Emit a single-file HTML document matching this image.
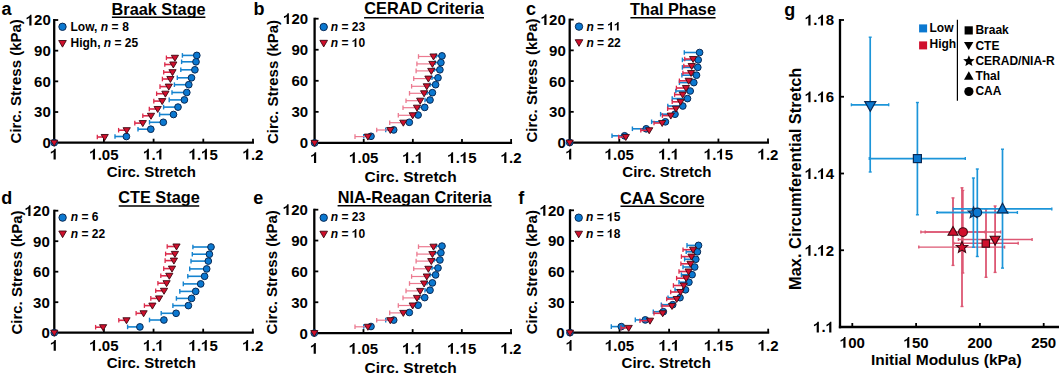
<!DOCTYPE html>
<html><head><meta charset="utf-8"><style>
html,body{margin:0;padding:0;background:#fff;}
svg{display:block;font-family:"Liberation Sans", sans-serif;}
</style></head><body>
<svg width="1059" height="375" viewBox="0 0 1059 375">
<rect width="1059" height="375" fill="#fff"/>
<text x="1.60" y="14.90" font-size="18" text-anchor="start" font-weight="bold">a</text>
<text x="158.60" y="14.60" font-size="16.3" text-anchor="middle" font-weight="bold">Braak Stage</text>
<line x1="111.90" y1="17.30" x2="205.40" y2="17.30" stroke="#000" stroke-width="1.6"/>
<text transform="translate(20.90,81.30) rotate(-90)" x="0" y="0" font-size="15" text-anchor="middle" font-weight="bold">Circ. Stress (kPa)</text>
<text x="151.30" y="177.00" font-size="15" text-anchor="middle" font-weight="bold">Circ. Stretch</text>
<line x1="54.20" y1="19.00" x2="54.20" y2="143.85" stroke="#000" stroke-width="2.3"/>
<line x1="53.05" y1="142.70" x2="254.00" y2="142.70" stroke="#000" stroke-width="2.3"/>
<path d="M53.56 159.60L55.76 159.60L55.76 148.86L54.41 148.86L54.04 149.71L53.32 150.52L52.23 151.25L50.82 151.87L50.82 153.52L51.86 153.13L52.81 152.57L53.56 152.01Z" fill="#000"/>
<line x1="103.90" y1="142.70" x2="103.90" y2="138.70" stroke="#000" stroke-width="1.8"/>
<path d="M92.83 159.60L95.03 159.60L95.03 148.86L93.68 148.86L93.32 149.71L92.60 150.52L91.50 151.25L90.09 151.87L90.09 153.52L91.13 153.13L92.09 152.57L92.83 152.01Z" fill="#000"/>
<text x="97.65" y="159.60" font-size="15" font-weight="bold">.</text>
<text x="101.81" y="159.60" font-size="15" font-weight="bold">0</text>
<text x="110.15" y="159.60" font-size="15" font-weight="bold">5</text>
<line x1="153.60" y1="142.70" x2="153.60" y2="138.70" stroke="#000" stroke-width="1.8"/>
<path d="M146.70 159.60L148.90 159.60L148.90 148.86L147.55 148.86L147.19 149.71L146.47 150.52L145.37 151.25L143.96 151.87L143.96 153.52L145.01 153.13L145.96 152.57L146.70 152.01Z" fill="#000"/>
<text x="151.52" y="159.60" font-size="15" font-weight="bold">.</text>
<path d="M159.21 159.60L161.41 159.60L161.41 148.86L160.06 148.86L159.70 149.71L158.98 150.52L157.88 151.25L156.47 151.87L156.47 153.52L157.51 153.13L158.47 152.57L159.21 152.01Z" fill="#000"/>
<line x1="203.30" y1="142.70" x2="203.30" y2="138.70" stroke="#000" stroke-width="1.8"/>
<path d="M192.23 159.60L194.43 159.60L194.43 148.86L193.08 148.86L192.72 149.71L192.00 150.52L190.90 151.25L189.49 151.87L189.49 153.52L190.53 153.13L191.49 152.57L192.23 152.01Z" fill="#000"/>
<text x="197.05" y="159.60" font-size="15" font-weight="bold">.</text>
<path d="M204.74 159.60L206.94 159.60L206.94 148.86L205.59 148.86L205.23 149.71L204.51 150.52L203.41 151.25L202.00 151.87L202.00 153.52L203.04 153.13L204.00 152.57L204.74 152.01Z" fill="#000"/>
<text x="209.55" y="159.60" font-size="15" font-weight="bold">5</text>
<line x1="253.00" y1="142.70" x2="253.00" y2="138.70" stroke="#000" stroke-width="1.8"/>
<path d="M246.10 159.60L248.30 159.60L248.30 148.86L246.95 148.86L246.59 149.71L245.87 150.52L244.77 151.25L243.36 151.87L243.36 153.52L244.41 153.13L245.36 152.57L246.10 152.01Z" fill="#000"/>
<text x="250.92" y="159.60" font-size="15" font-weight="bold">.</text>
<text x="255.08" y="159.60" font-size="15" font-weight="bold">2</text>
<text x="42.46" y="148.10" font-size="15" font-weight="bold">0</text>
<line x1="54.20" y1="112.02" x2="58.20" y2="112.02" stroke="#000" stroke-width="1.8"/>
<text x="34.12" y="117.42" font-size="15" font-weight="bold">3</text>
<text x="42.46" y="117.42" font-size="15" font-weight="bold">0</text>
<line x1="54.20" y1="81.35" x2="58.20" y2="81.35" stroke="#000" stroke-width="1.8"/>
<text x="34.12" y="86.75" font-size="15" font-weight="bold">6</text>
<text x="42.46" y="86.75" font-size="15" font-weight="bold">0</text>
<line x1="54.20" y1="50.67" x2="58.20" y2="50.67" stroke="#000" stroke-width="1.8"/>
<text x="34.12" y="56.07" font-size="15" font-weight="bold">9</text>
<text x="42.46" y="56.07" font-size="15" font-weight="bold">0</text>
<line x1="54.20" y1="20.00" x2="58.20" y2="20.00" stroke="#000" stroke-width="1.8"/>
<path d="M29.30 25.40L31.50 25.40L31.50 14.66L30.15 14.66L29.79 15.51L29.07 16.32L27.97 17.05L26.56 17.67L26.56 19.32L27.60 18.93L28.56 18.37L29.30 17.81Z" fill="#000"/>
<text x="34.12" y="25.40" font-size="15" font-weight="bold">2</text>
<text x="42.46" y="25.40" font-size="15" font-weight="bold">0</text>
<circle cx="54.20" cy="142.70" r="3.35" fill="#0b78d0" stroke="#0a2a55" stroke-width="1"/>
<line x1="115.00" y1="136.50" x2="126.40" y2="136.50" stroke="#1583cf" stroke-width="1.6"/>
<line x1="115.00" y1="134.20" x2="115.00" y2="138.80" stroke="#1583cf" stroke-width="1.4"/>
<line x1="138.00" y1="129.20" x2="150.80" y2="129.20" stroke="#1583cf" stroke-width="1.6"/>
<line x1="138.00" y1="126.90" x2="138.00" y2="131.50" stroke="#1583cf" stroke-width="1.4"/>
<line x1="149.50" y1="122.30" x2="163.30" y2="122.30" stroke="#1583cf" stroke-width="1.6"/>
<line x1="149.50" y1="120.00" x2="149.50" y2="124.60" stroke="#1583cf" stroke-width="1.4"/>
<line x1="159.60" y1="114.50" x2="173.50" y2="114.50" stroke="#1583cf" stroke-width="1.6"/>
<line x1="159.60" y1="112.20" x2="159.60" y2="116.80" stroke="#1583cf" stroke-width="1.4"/>
<line x1="163.60" y1="107.10" x2="178.00" y2="107.10" stroke="#1583cf" stroke-width="1.6"/>
<line x1="163.60" y1="104.80" x2="163.60" y2="109.40" stroke="#1583cf" stroke-width="1.4"/>
<line x1="169.20" y1="99.90" x2="184.40" y2="99.90" stroke="#1583cf" stroke-width="1.6"/>
<line x1="169.20" y1="97.60" x2="169.20" y2="102.20" stroke="#1583cf" stroke-width="1.4"/>
<line x1="172.00" y1="92.50" x2="186.80" y2="92.50" stroke="#1583cf" stroke-width="1.6"/>
<line x1="172.00" y1="90.20" x2="172.00" y2="94.80" stroke="#1583cf" stroke-width="1.4"/>
<line x1="174.40" y1="84.70" x2="188.80" y2="84.70" stroke="#1583cf" stroke-width="1.6"/>
<line x1="174.40" y1="82.40" x2="174.40" y2="87.00" stroke="#1583cf" stroke-width="1.4"/>
<line x1="177.30" y1="77.80" x2="191.50" y2="77.80" stroke="#1583cf" stroke-width="1.6"/>
<line x1="177.30" y1="75.50" x2="177.30" y2="80.10" stroke="#1583cf" stroke-width="1.4"/>
<line x1="180.80" y1="69.80" x2="194.90" y2="69.80" stroke="#1583cf" stroke-width="1.6"/>
<line x1="180.80" y1="67.50" x2="180.80" y2="72.10" stroke="#1583cf" stroke-width="1.4"/>
<line x1="181.60" y1="61.80" x2="196.00" y2="61.80" stroke="#1583cf" stroke-width="1.6"/>
<line x1="181.60" y1="59.50" x2="181.60" y2="64.10" stroke="#1583cf" stroke-width="1.4"/>
<line x1="182.40" y1="55.40" x2="196.80" y2="55.40" stroke="#1583cf" stroke-width="1.6"/>
<line x1="182.40" y1="53.10" x2="182.40" y2="57.70" stroke="#1583cf" stroke-width="1.4"/>
<circle cx="126.40" cy="136.50" r="3.35" fill="#0b78d0" stroke="#0a2a55" stroke-width="1"/>
<circle cx="150.80" cy="129.20" r="3.35" fill="#0b78d0" stroke="#0a2a55" stroke-width="1"/>
<circle cx="163.30" cy="122.30" r="3.35" fill="#0b78d0" stroke="#0a2a55" stroke-width="1"/>
<circle cx="173.50" cy="114.50" r="3.35" fill="#0b78d0" stroke="#0a2a55" stroke-width="1"/>
<circle cx="178.00" cy="107.10" r="3.35" fill="#0b78d0" stroke="#0a2a55" stroke-width="1"/>
<circle cx="184.40" cy="99.90" r="3.35" fill="#0b78d0" stroke="#0a2a55" stroke-width="1"/>
<circle cx="186.80" cy="92.50" r="3.35" fill="#0b78d0" stroke="#0a2a55" stroke-width="1"/>
<circle cx="188.80" cy="84.70" r="3.35" fill="#0b78d0" stroke="#0a2a55" stroke-width="1"/>
<circle cx="191.50" cy="77.80" r="3.35" fill="#0b78d0" stroke="#0a2a55" stroke-width="1"/>
<circle cx="194.90" cy="69.80" r="3.35" fill="#0b78d0" stroke="#0a2a55" stroke-width="1"/>
<circle cx="196.00" cy="61.80" r="3.35" fill="#0b78d0" stroke="#0a2a55" stroke-width="1"/>
<circle cx="196.80" cy="55.40" r="3.35" fill="#0b78d0" stroke="#0a2a55" stroke-width="1"/>
<line x1="97.30" y1="137.00" x2="104.70" y2="137.00" stroke="#dc2a4a" stroke-width="1.6"/>
<line x1="97.30" y1="134.70" x2="97.30" y2="139.30" stroke="#dc2a4a" stroke-width="1.3"/>
<line x1="118.60" y1="130.20" x2="126.70" y2="130.20" stroke="#dc2a4a" stroke-width="1.6"/>
<line x1="118.60" y1="127.90" x2="118.60" y2="132.50" stroke="#dc2a4a" stroke-width="1.3"/>
<line x1="134.80" y1="123.10" x2="142.80" y2="123.10" stroke="#dc2a4a" stroke-width="1.6"/>
<line x1="134.80" y1="120.80" x2="134.80" y2="125.40" stroke="#dc2a4a" stroke-width="1.3"/>
<line x1="142.80" y1="115.80" x2="151.00" y2="115.80" stroke="#dc2a4a" stroke-width="1.6"/>
<line x1="142.80" y1="113.50" x2="142.80" y2="118.10" stroke="#dc2a4a" stroke-width="1.3"/>
<line x1="149.30" y1="109.00" x2="157.70" y2="109.00" stroke="#dc2a4a" stroke-width="1.6"/>
<line x1="149.30" y1="106.70" x2="149.30" y2="111.30" stroke="#dc2a4a" stroke-width="1.3"/>
<line x1="153.80" y1="101.10" x2="162.20" y2="101.10" stroke="#dc2a4a" stroke-width="1.6"/>
<line x1="153.80" y1="98.80" x2="153.80" y2="103.40" stroke="#dc2a4a" stroke-width="1.3"/>
<line x1="156.60" y1="93.70" x2="165.40" y2="93.70" stroke="#dc2a4a" stroke-width="1.6"/>
<line x1="156.60" y1="91.40" x2="156.60" y2="96.00" stroke="#dc2a4a" stroke-width="1.3"/>
<line x1="160.00" y1="86.60" x2="168.80" y2="86.60" stroke="#dc2a4a" stroke-width="1.6"/>
<line x1="160.00" y1="84.30" x2="160.00" y2="88.90" stroke="#dc2a4a" stroke-width="1.3"/>
<line x1="162.40" y1="79.00" x2="170.40" y2="79.00" stroke="#dc2a4a" stroke-width="1.6"/>
<line x1="162.40" y1="76.70" x2="162.40" y2="81.30" stroke="#dc2a4a" stroke-width="1.3"/>
<line x1="163.70" y1="72.20" x2="172.50" y2="72.20" stroke="#dc2a4a" stroke-width="1.6"/>
<line x1="163.70" y1="69.90" x2="163.70" y2="74.50" stroke="#dc2a4a" stroke-width="1.3"/>
<line x1="164.80" y1="64.50" x2="173.30" y2="64.50" stroke="#dc2a4a" stroke-width="1.6"/>
<line x1="164.80" y1="62.20" x2="164.80" y2="66.80" stroke="#dc2a4a" stroke-width="1.3"/>
<line x1="166.40" y1="57.80" x2="174.90" y2="57.80" stroke="#dc2a4a" stroke-width="1.6"/>
<line x1="166.40" y1="55.50" x2="166.40" y2="60.10" stroke="#dc2a4a" stroke-width="1.3"/>
<path d="M50.60 140.18L57.80 140.18L54.20 146.18Z" fill="#d00f2c" stroke="#3c0812" stroke-width="0.9" stroke-linejoin="miter"/>
<path d="M101.10 134.48L108.30 134.48L104.70 140.48Z" fill="#d00f2c" stroke="#3c0812" stroke-width="0.9" stroke-linejoin="miter"/>
<path d="M123.10 127.68L130.30 127.68L126.70 133.68Z" fill="#d00f2c" stroke="#3c0812" stroke-width="0.9" stroke-linejoin="miter"/>
<path d="M139.20 120.58L146.40 120.58L142.80 126.58Z" fill="#d00f2c" stroke="#3c0812" stroke-width="0.9" stroke-linejoin="miter"/>
<path d="M147.40 113.28L154.60 113.28L151.00 119.28Z" fill="#d00f2c" stroke="#3c0812" stroke-width="0.9" stroke-linejoin="miter"/>
<path d="M154.10 106.48L161.30 106.48L157.70 112.48Z" fill="#d00f2c" stroke="#3c0812" stroke-width="0.9" stroke-linejoin="miter"/>
<path d="M158.60 98.58L165.80 98.58L162.20 104.58Z" fill="#d00f2c" stroke="#3c0812" stroke-width="0.9" stroke-linejoin="miter"/>
<path d="M161.80 91.18L169.00 91.18L165.40 97.18Z" fill="#d00f2c" stroke="#3c0812" stroke-width="0.9" stroke-linejoin="miter"/>
<path d="M165.20 84.08L172.40 84.08L168.80 90.08Z" fill="#d00f2c" stroke="#3c0812" stroke-width="0.9" stroke-linejoin="miter"/>
<path d="M166.80 76.48L174.00 76.48L170.40 82.48Z" fill="#d00f2c" stroke="#3c0812" stroke-width="0.9" stroke-linejoin="miter"/>
<path d="M168.90 69.68L176.10 69.68L172.50 75.68Z" fill="#d00f2c" stroke="#3c0812" stroke-width="0.9" stroke-linejoin="miter"/>
<path d="M169.70 61.98L176.90 61.98L173.30 67.98Z" fill="#d00f2c" stroke="#3c0812" stroke-width="0.9" stroke-linejoin="miter"/>
<path d="M171.30 55.28L178.50 55.28L174.90 61.28Z" fill="#d00f2c" stroke="#3c0812" stroke-width="0.9" stroke-linejoin="miter"/>
<circle cx="62.50" cy="26.80" r="3.70" fill="#0b78d0" stroke="#0a2a55" stroke-width="1"/>
<path d="M58.70 40.53L66.30 40.53L62.50 47.13Z" fill="#d00f2c" stroke="#3c0812" stroke-width="0.9" stroke-linejoin="miter"/>
<text x="70.50" y="30.90" font-size="12" font-weight="bold">Low, <tspan font-style="italic">n</tspan> = </text>
<text x="122.17" y="30.90" font-size="12" font-weight="bold">8</text>
<text x="70.50" y="47.00" font-size="12" font-weight="bold">High, <tspan font-style="italic">n</tspan> = </text>
<text x="124.83" y="47.00" font-size="12" font-weight="bold">2</text>
<text x="131.51" y="47.00" font-size="12" font-weight="bold">5</text>
<text x="253.40" y="15.00" font-size="18" text-anchor="start" font-weight="bold">b</text>
<text x="424.00" y="14.20" font-size="16.3" text-anchor="middle" font-weight="bold">CERAD Criteria</text>
<line x1="364.10" y1="17.80" x2="484.00" y2="17.80" stroke="#000" stroke-width="1.6"/>
<text transform="translate(277.50,82.00) rotate(-90)" x="0" y="0" font-size="15" text-anchor="middle" font-weight="bold">Circ. Stress (kPa)</text>
<text x="410.60" y="182.40" font-size="15.5" text-anchor="middle" font-weight="bold">Circ. Stretch</text>
<line x1="314.60" y1="17.70" x2="314.60" y2="144.05" stroke="#000" stroke-width="2.3"/>
<line x1="313.45" y1="142.90" x2="512.10" y2="142.90" stroke="#000" stroke-width="2.3"/>
<path d="M313.96 163.00L316.16 163.00L316.16 152.26L314.81 152.26L314.44 153.11L313.72 153.92L312.63 154.65L311.22 155.27L311.22 156.92L312.26 156.53L313.21 155.97L313.96 155.41Z" fill="#000"/>
<line x1="363.73" y1="142.90" x2="363.73" y2="138.90" stroke="#000" stroke-width="1.8"/>
<path d="M352.66 163.00L354.86 163.00L354.86 152.26L353.51 152.26L353.14 153.11L352.42 153.92L351.33 154.65L349.92 155.27L349.92 156.92L350.96 156.53L351.91 155.97L352.66 155.41Z" fill="#000"/>
<text x="357.47" y="163.00" font-size="15" font-weight="bold">.</text>
<text x="361.64" y="163.00" font-size="15" font-weight="bold">0</text>
<text x="369.98" y="163.00" font-size="15" font-weight="bold">5</text>
<line x1="412.85" y1="142.90" x2="412.85" y2="138.90" stroke="#000" stroke-width="1.8"/>
<path d="M405.95 163.00L408.15 163.00L408.15 152.26L406.80 152.26L406.44 153.11L405.72 153.92L404.62 154.65L403.21 155.27L403.21 156.92L404.26 156.53L405.21 155.97L405.95 155.41Z" fill="#000"/>
<text x="410.77" y="163.00" font-size="15" font-weight="bold">.</text>
<path d="M418.46 163.00L420.66 163.00L420.66 152.26L419.31 152.26L418.95 153.11L418.23 153.92L417.13 154.65L415.72 155.27L415.72 156.92L416.76 156.53L417.72 155.97L418.46 155.41Z" fill="#000"/>
<line x1="461.98" y1="142.90" x2="461.98" y2="138.90" stroke="#000" stroke-width="1.8"/>
<path d="M450.91 163.00L453.11 163.00L453.11 152.26L451.76 152.26L451.39 153.11L450.67 153.92L449.58 154.65L448.17 155.27L448.17 156.92L449.21 156.53L450.16 155.97L450.91 155.41Z" fill="#000"/>
<text x="455.72" y="163.00" font-size="15" font-weight="bold">.</text>
<path d="M463.42 163.00L465.62 163.00L465.62 152.26L464.27 152.26L463.90 153.11L463.18 153.92L462.08 154.65L460.68 155.27L460.68 156.92L461.72 156.53L462.67 155.97L463.42 155.41Z" fill="#000"/>
<text x="468.23" y="163.00" font-size="15" font-weight="bold">5</text>
<line x1="511.10" y1="142.90" x2="511.10" y2="138.90" stroke="#000" stroke-width="1.8"/>
<path d="M504.20 163.00L506.40 163.00L506.40 152.26L505.05 152.26L504.69 153.11L503.97 153.92L502.87 154.65L501.46 155.27L501.46 156.92L502.51 156.53L503.46 155.97L504.20 155.41Z" fill="#000"/>
<text x="509.02" y="163.00" font-size="15" font-weight="bold">.</text>
<text x="513.18" y="163.00" font-size="15" font-weight="bold">2</text>
<text x="299.86" y="148.30" font-size="15" font-weight="bold">0</text>
<line x1="314.60" y1="111.85" x2="318.60" y2="111.85" stroke="#000" stroke-width="1.8"/>
<text x="291.52" y="117.25" font-size="15" font-weight="bold">3</text>
<text x="299.86" y="117.25" font-size="15" font-weight="bold">0</text>
<line x1="314.60" y1="80.80" x2="318.60" y2="80.80" stroke="#000" stroke-width="1.8"/>
<text x="291.52" y="86.20" font-size="15" font-weight="bold">6</text>
<text x="299.86" y="86.20" font-size="15" font-weight="bold">0</text>
<line x1="314.60" y1="49.75" x2="318.60" y2="49.75" stroke="#000" stroke-width="1.8"/>
<text x="291.52" y="55.15" font-size="15" font-weight="bold">9</text>
<text x="299.86" y="55.15" font-size="15" font-weight="bold">0</text>
<line x1="314.60" y1="18.70" x2="318.60" y2="18.70" stroke="#000" stroke-width="1.8"/>
<path d="M286.70 24.10L288.90 24.10L288.90 13.36L287.55 13.36L287.19 14.21L286.47 15.02L285.37 15.75L283.96 16.37L283.96 18.02L285.00 17.63L285.96 17.07L286.70 16.51Z" fill="#000"/>
<text x="291.52" y="24.10" font-size="15" font-weight="bold">2</text>
<text x="299.86" y="24.10" font-size="15" font-weight="bold">0</text>
<circle cx="314.60" cy="142.90" r="3.35" fill="#0b78d0" stroke="#0a2a55" stroke-width="1"/>
<line x1="363.70" y1="136.30" x2="371.00" y2="136.30" stroke="#1583cf" stroke-width="1.6"/>
<line x1="363.70" y1="134.00" x2="363.70" y2="138.60" stroke="#1583cf" stroke-width="1.4"/>
<line x1="385.70" y1="129.90" x2="393.70" y2="129.90" stroke="#1583cf" stroke-width="1.6"/>
<line x1="385.70" y1="127.60" x2="385.70" y2="132.20" stroke="#1583cf" stroke-width="1.4"/>
<line x1="403.00" y1="122.30" x2="409.30" y2="122.30" stroke="#1583cf" stroke-width="1.6"/>
<line x1="403.00" y1="120.00" x2="403.00" y2="124.60" stroke="#1583cf" stroke-width="1.4"/>
<line x1="412.00" y1="115.00" x2="418.10" y2="115.00" stroke="#1583cf" stroke-width="1.6"/>
<line x1="412.00" y1="112.70" x2="412.00" y2="117.30" stroke="#1583cf" stroke-width="1.4"/>
<line x1="419.00" y1="107.40" x2="424.70" y2="107.40" stroke="#1583cf" stroke-width="1.6"/>
<line x1="419.00" y1="105.10" x2="419.00" y2="109.70" stroke="#1583cf" stroke-width="1.4"/>
<line x1="425.00" y1="100.00" x2="430.00" y2="100.00" stroke="#1583cf" stroke-width="1.6"/>
<line x1="425.00" y1="97.70" x2="425.00" y2="102.30" stroke="#1583cf" stroke-width="1.4"/>
<line x1="427.00" y1="92.70" x2="432.40" y2="92.70" stroke="#1583cf" stroke-width="1.6"/>
<line x1="427.00" y1="90.40" x2="427.00" y2="95.00" stroke="#1583cf" stroke-width="1.4"/>
<line x1="430.00" y1="84.70" x2="435.60" y2="84.70" stroke="#1583cf" stroke-width="1.6"/>
<line x1="430.00" y1="82.40" x2="430.00" y2="87.00" stroke="#1583cf" stroke-width="1.4"/>
<line x1="432.00" y1="77.80" x2="438.00" y2="77.80" stroke="#1583cf" stroke-width="1.6"/>
<line x1="432.00" y1="75.50" x2="432.00" y2="80.10" stroke="#1583cf" stroke-width="1.4"/>
<line x1="434.00" y1="69.80" x2="439.90" y2="69.80" stroke="#1583cf" stroke-width="1.6"/>
<line x1="434.00" y1="67.50" x2="434.00" y2="72.10" stroke="#1583cf" stroke-width="1.4"/>
<line x1="435.00" y1="62.60" x2="440.90" y2="62.60" stroke="#1583cf" stroke-width="1.6"/>
<line x1="435.00" y1="60.30" x2="435.00" y2="64.90" stroke="#1583cf" stroke-width="1.4"/>
<line x1="436.00" y1="55.90" x2="442.00" y2="55.90" stroke="#1583cf" stroke-width="1.6"/>
<line x1="436.00" y1="53.60" x2="436.00" y2="58.20" stroke="#1583cf" stroke-width="1.4"/>
<circle cx="371.00" cy="136.30" r="3.35" fill="#0b78d0" stroke="#0a2a55" stroke-width="1"/>
<circle cx="393.70" cy="129.90" r="3.35" fill="#0b78d0" stroke="#0a2a55" stroke-width="1"/>
<circle cx="409.30" cy="122.30" r="3.35" fill="#0b78d0" stroke="#0a2a55" stroke-width="1"/>
<circle cx="418.10" cy="115.00" r="3.35" fill="#0b78d0" stroke="#0a2a55" stroke-width="1"/>
<circle cx="424.70" cy="107.40" r="3.35" fill="#0b78d0" stroke="#0a2a55" stroke-width="1"/>
<circle cx="430.00" cy="100.00" r="3.35" fill="#0b78d0" stroke="#0a2a55" stroke-width="1"/>
<circle cx="432.40" cy="92.70" r="3.35" fill="#0b78d0" stroke="#0a2a55" stroke-width="1"/>
<circle cx="435.60" cy="84.70" r="3.35" fill="#0b78d0" stroke="#0a2a55" stroke-width="1"/>
<circle cx="438.00" cy="77.80" r="3.35" fill="#0b78d0" stroke="#0a2a55" stroke-width="1"/>
<circle cx="439.90" cy="69.80" r="3.35" fill="#0b78d0" stroke="#0a2a55" stroke-width="1"/>
<circle cx="440.90" cy="62.60" r="3.35" fill="#0b78d0" stroke="#0a2a55" stroke-width="1"/>
<circle cx="442.00" cy="55.90" r="3.35" fill="#0b78d0" stroke="#0a2a55" stroke-width="1"/>
<line x1="355.00" y1="136.60" x2="367.90" y2="136.60" stroke="#ec7a90" stroke-width="1.2"/>
<line x1="355.00" y1="134.30" x2="355.00" y2="138.90" stroke="#ec7a90" stroke-width="1.3"/>
<line x1="376.70" y1="130.00" x2="390.30" y2="130.00" stroke="#ec7a90" stroke-width="1.2"/>
<line x1="376.70" y1="127.70" x2="376.70" y2="132.30" stroke="#ec7a90" stroke-width="1.3"/>
<line x1="389.70" y1="122.70" x2="403.30" y2="122.70" stroke="#ec7a90" stroke-width="1.2"/>
<line x1="389.70" y1="120.40" x2="389.70" y2="125.00" stroke="#ec7a90" stroke-width="1.3"/>
<line x1="398.30" y1="115.30" x2="412.70" y2="115.30" stroke="#ec7a90" stroke-width="1.2"/>
<line x1="398.30" y1="113.00" x2="398.30" y2="117.60" stroke="#ec7a90" stroke-width="1.3"/>
<line x1="403.00" y1="107.70" x2="417.00" y2="107.70" stroke="#ec7a90" stroke-width="1.2"/>
<line x1="403.00" y1="105.40" x2="403.00" y2="110.00" stroke="#ec7a90" stroke-width="1.3"/>
<line x1="406.00" y1="100.70" x2="420.20" y2="100.70" stroke="#ec7a90" stroke-width="1.2"/>
<line x1="406.00" y1="98.40" x2="406.00" y2="103.00" stroke="#ec7a90" stroke-width="1.3"/>
<line x1="409.50" y1="93.30" x2="424.10" y2="93.30" stroke="#ec7a90" stroke-width="1.2"/>
<line x1="409.50" y1="91.00" x2="409.50" y2="95.60" stroke="#ec7a90" stroke-width="1.3"/>
<line x1="411.60" y1="86.30" x2="426.80" y2="86.30" stroke="#ec7a90" stroke-width="1.2"/>
<line x1="411.60" y1="84.00" x2="411.60" y2="88.60" stroke="#ec7a90" stroke-width="1.3"/>
<line x1="413.70" y1="78.60" x2="428.40" y2="78.60" stroke="#ec7a90" stroke-width="1.2"/>
<line x1="413.70" y1="76.30" x2="413.70" y2="80.90" stroke="#ec7a90" stroke-width="1.3"/>
<line x1="416.10" y1="70.90" x2="431.30" y2="70.90" stroke="#ec7a90" stroke-width="1.2"/>
<line x1="416.10" y1="68.60" x2="416.10" y2="73.20" stroke="#ec7a90" stroke-width="1.3"/>
<line x1="416.90" y1="63.90" x2="432.40" y2="63.90" stroke="#ec7a90" stroke-width="1.2"/>
<line x1="416.90" y1="61.60" x2="416.90" y2="66.20" stroke="#ec7a90" stroke-width="1.3"/>
<line x1="418.50" y1="56.50" x2="433.50" y2="56.50" stroke="#ec7a90" stroke-width="1.2"/>
<line x1="418.50" y1="54.20" x2="418.50" y2="58.80" stroke="#ec7a90" stroke-width="1.3"/>
<path d="M311.00 140.38L318.20 140.38L314.60 146.38Z" fill="#d00f2c" stroke="#3c0812" stroke-width="0.9" stroke-linejoin="miter"/>
<path d="M364.30 134.08L371.50 134.08L367.90 140.08Z" fill="#d00f2c" stroke="#3c0812" stroke-width="0.9" stroke-linejoin="miter"/>
<path d="M386.70 127.48L393.90 127.48L390.30 133.48Z" fill="#d00f2c" stroke="#3c0812" stroke-width="0.9" stroke-linejoin="miter"/>
<path d="M399.70 120.18L406.90 120.18L403.30 126.18Z" fill="#d00f2c" stroke="#3c0812" stroke-width="0.9" stroke-linejoin="miter"/>
<path d="M409.10 112.78L416.30 112.78L412.70 118.78Z" fill="#d00f2c" stroke="#3c0812" stroke-width="0.9" stroke-linejoin="miter"/>
<path d="M413.40 105.18L420.60 105.18L417.00 111.18Z" fill="#d00f2c" stroke="#3c0812" stroke-width="0.9" stroke-linejoin="miter"/>
<path d="M416.60 98.18L423.80 98.18L420.20 104.18Z" fill="#d00f2c" stroke="#3c0812" stroke-width="0.9" stroke-linejoin="miter"/>
<path d="M420.50 90.78L427.70 90.78L424.10 96.78Z" fill="#d00f2c" stroke="#3c0812" stroke-width="0.9" stroke-linejoin="miter"/>
<path d="M423.20 83.78L430.40 83.78L426.80 89.78Z" fill="#d00f2c" stroke="#3c0812" stroke-width="0.9" stroke-linejoin="miter"/>
<path d="M424.80 76.08L432.00 76.08L428.40 82.08Z" fill="#d00f2c" stroke="#3c0812" stroke-width="0.9" stroke-linejoin="miter"/>
<path d="M427.70 68.38L434.90 68.38L431.30 74.38Z" fill="#d00f2c" stroke="#3c0812" stroke-width="0.9" stroke-linejoin="miter"/>
<path d="M428.80 61.38L436.00 61.38L432.40 67.38Z" fill="#d00f2c" stroke="#3c0812" stroke-width="0.9" stroke-linejoin="miter"/>
<path d="M429.90 53.98L437.10 53.98L433.50 59.98Z" fill="#d00f2c" stroke="#3c0812" stroke-width="0.9" stroke-linejoin="miter"/>
<circle cx="323.70" cy="27.00" r="3.70" fill="#0b78d0" stroke="#0a2a55" stroke-width="1"/>
<path d="M319.90 40.33L327.50 40.33L323.70 46.93Z" fill="#d00f2c" stroke="#3c0812" stroke-width="0.9" stroke-linejoin="miter"/>
<text x="330.80" y="30.60" font-size="12" font-weight="bold"><tspan font-style="italic">n</tspan> = </text>
<text x="351.81" y="30.60" font-size="12" font-weight="bold">2</text>
<text x="358.48" y="30.60" font-size="12" font-weight="bold">3</text>
<text x="330.80" y="46.90" font-size="12" font-weight="bold"><tspan font-style="italic">n</tspan> = </text>
<path d="M354.63 46.90L356.39 46.90L356.39 38.31L355.31 38.31L355.02 38.99L354.44 39.63L353.56 40.22L352.44 40.72L352.44 42.04L353.27 41.72L354.03 41.27L354.63 40.83Z" fill="#000"/>
<text x="358.48" y="46.90" font-size="12" font-weight="bold">0</text>
<text x="526.00" y="15.00" font-size="18" text-anchor="start" font-weight="bold">c</text>
<text x="673.00" y="14.50" font-size="16.3" text-anchor="middle" font-weight="bold">Thal Phase</text>
<line x1="630.40" y1="17.70" x2="715.60" y2="17.70" stroke="#000" stroke-width="1.6"/>
<text transform="translate(536.70,80.50) rotate(-90)" x="0" y="0" font-size="15" text-anchor="middle" font-weight="bold">Circ. Stress (kPa)</text>
<text x="666.90" y="176.80" font-size="15" text-anchor="middle" font-weight="bold">Circ. Stretch</text>
<line x1="569.70" y1="18.60" x2="569.70" y2="143.75" stroke="#000" stroke-width="2.3"/>
<line x1="568.55" y1="142.60" x2="769.00" y2="142.60" stroke="#000" stroke-width="2.3"/>
<path d="M569.06 159.50L571.26 159.50L571.26 148.76L569.91 148.76L569.54 149.61L568.82 150.42L567.73 151.15L566.32 151.77L566.32 153.42L567.36 153.03L568.31 152.47L569.06 151.91Z" fill="#000"/>
<line x1="619.28" y1="142.60" x2="619.28" y2="138.60" stroke="#000" stroke-width="1.8"/>
<path d="M608.21 159.50L610.41 159.50L610.41 148.76L609.06 148.76L608.69 149.61L607.97 150.42L606.88 151.15L605.47 151.77L605.47 153.42L606.51 153.03L607.46 152.47L608.21 151.91Z" fill="#000"/>
<text x="613.02" y="159.50" font-size="15" font-weight="bold">.</text>
<text x="617.19" y="159.50" font-size="15" font-weight="bold">0</text>
<text x="625.53" y="159.50" font-size="15" font-weight="bold">5</text>
<line x1="668.85" y1="142.60" x2="668.85" y2="138.60" stroke="#000" stroke-width="1.8"/>
<path d="M661.95 159.50L664.15 159.50L664.15 148.76L662.80 148.76L662.44 149.61L661.72 150.42L660.62 151.15L659.21 151.77L659.21 153.42L660.26 153.03L661.21 152.47L661.95 151.91Z" fill="#000"/>
<text x="666.77" y="159.50" font-size="15" font-weight="bold">.</text>
<path d="M674.46 159.50L676.66 159.50L676.66 148.76L675.31 148.76L674.95 149.61L674.23 150.42L673.13 151.15L671.72 151.77L671.72 153.42L672.76 153.03L673.72 152.47L674.46 151.91Z" fill="#000"/>
<line x1="718.42" y1="142.60" x2="718.42" y2="138.60" stroke="#000" stroke-width="1.8"/>
<path d="M707.36 159.50L709.56 159.50L709.56 148.76L708.21 148.76L707.84 149.61L707.12 150.42L706.03 151.15L704.62 151.77L704.62 153.42L705.66 153.03L706.61 152.47L707.36 151.91Z" fill="#000"/>
<text x="712.17" y="159.50" font-size="15" font-weight="bold">.</text>
<path d="M719.87 159.50L722.07 159.50L722.07 148.76L720.72 148.76L720.35 149.61L719.63 150.42L718.53 151.15L717.13 151.77L717.13 153.42L718.17 153.03L719.12 152.47L719.87 151.91Z" fill="#000"/>
<text x="724.68" y="159.50" font-size="15" font-weight="bold">5</text>
<line x1="768.00" y1="142.60" x2="768.00" y2="138.60" stroke="#000" stroke-width="1.8"/>
<path d="M761.10 159.50L763.30 159.50L763.30 148.76L761.95 148.76L761.59 149.61L760.87 150.42L759.77 151.15L758.36 151.77L758.36 153.42L759.41 153.03L760.36 152.47L761.10 151.91Z" fill="#000"/>
<text x="765.92" y="159.50" font-size="15" font-weight="bold">.</text>
<text x="770.08" y="159.50" font-size="15" font-weight="bold">2</text>
<text x="557.46" y="148.00" font-size="15" font-weight="bold">0</text>
<line x1="569.70" y1="111.85" x2="573.70" y2="111.85" stroke="#000" stroke-width="1.8"/>
<text x="549.12" y="117.25" font-size="15" font-weight="bold">3</text>
<text x="557.46" y="117.25" font-size="15" font-weight="bold">0</text>
<line x1="569.70" y1="81.10" x2="573.70" y2="81.10" stroke="#000" stroke-width="1.8"/>
<text x="549.12" y="86.50" font-size="15" font-weight="bold">6</text>
<text x="557.46" y="86.50" font-size="15" font-weight="bold">0</text>
<line x1="569.70" y1="50.35" x2="573.70" y2="50.35" stroke="#000" stroke-width="1.8"/>
<text x="549.12" y="55.75" font-size="15" font-weight="bold">9</text>
<text x="557.46" y="55.75" font-size="15" font-weight="bold">0</text>
<line x1="569.70" y1="19.60" x2="573.70" y2="19.60" stroke="#000" stroke-width="1.8"/>
<path d="M544.30 25.00L546.50 25.00L546.50 14.26L545.15 14.26L544.79 15.11L544.07 15.92L542.97 16.65L541.56 17.27L541.56 18.92L542.60 18.53L543.56 17.97L544.30 17.41Z" fill="#000"/>
<text x="549.12" y="25.00" font-size="15" font-weight="bold">2</text>
<text x="557.46" y="25.00" font-size="15" font-weight="bold">0</text>
<circle cx="569.70" cy="142.60" r="3.35" fill="#0b78d0" stroke="#0a2a55" stroke-width="1"/>
<line x1="612.00" y1="135.80" x2="624.60" y2="135.80" stroke="#1583cf" stroke-width="1.6"/>
<line x1="612.00" y1="133.50" x2="612.00" y2="138.10" stroke="#1583cf" stroke-width="1.4"/>
<line x1="632.40" y1="128.80" x2="646.20" y2="128.80" stroke="#1583cf" stroke-width="1.6"/>
<line x1="632.40" y1="126.50" x2="632.40" y2="131.10" stroke="#1583cf" stroke-width="1.4"/>
<line x1="651.60" y1="121.80" x2="665.40" y2="121.80" stroke="#1583cf" stroke-width="1.6"/>
<line x1="651.60" y1="119.50" x2="651.60" y2="124.10" stroke="#1583cf" stroke-width="1.4"/>
<line x1="660.60" y1="114.20" x2="675.00" y2="114.20" stroke="#1583cf" stroke-width="1.6"/>
<line x1="660.60" y1="111.90" x2="660.60" y2="116.50" stroke="#1583cf" stroke-width="1.4"/>
<line x1="667.80" y1="106.00" x2="682.80" y2="106.00" stroke="#1583cf" stroke-width="1.6"/>
<line x1="667.80" y1="103.70" x2="667.80" y2="108.30" stroke="#1583cf" stroke-width="1.4"/>
<line x1="672.20" y1="98.60" x2="687.50" y2="98.60" stroke="#1583cf" stroke-width="1.6"/>
<line x1="672.20" y1="96.30" x2="672.20" y2="100.90" stroke="#1583cf" stroke-width="1.4"/>
<line x1="675.80" y1="91.00" x2="690.20" y2="91.00" stroke="#1583cf" stroke-width="1.6"/>
<line x1="675.80" y1="88.70" x2="675.80" y2="93.30" stroke="#1583cf" stroke-width="1.4"/>
<line x1="679.40" y1="82.60" x2="693.80" y2="82.60" stroke="#1583cf" stroke-width="1.6"/>
<line x1="679.40" y1="80.30" x2="679.40" y2="84.90" stroke="#1583cf" stroke-width="1.4"/>
<line x1="681.90" y1="75.20" x2="696.50" y2="75.20" stroke="#1583cf" stroke-width="1.6"/>
<line x1="681.90" y1="72.90" x2="681.90" y2="77.50" stroke="#1583cf" stroke-width="1.4"/>
<line x1="682.40" y1="67.40" x2="697.80" y2="67.40" stroke="#1583cf" stroke-width="1.6"/>
<line x1="682.40" y1="65.10" x2="682.40" y2="69.70" stroke="#1583cf" stroke-width="1.4"/>
<line x1="682.40" y1="59.90" x2="698.20" y2="59.90" stroke="#1583cf" stroke-width="1.6"/>
<line x1="682.40" y1="57.60" x2="682.40" y2="62.20" stroke="#1583cf" stroke-width="1.4"/>
<line x1="684.30" y1="52.50" x2="699.60" y2="52.50" stroke="#1583cf" stroke-width="1.6"/>
<line x1="684.30" y1="50.20" x2="684.30" y2="54.80" stroke="#1583cf" stroke-width="1.4"/>
<circle cx="624.60" cy="135.80" r="3.35" fill="#0b78d0" stroke="#0a2a55" stroke-width="1"/>
<circle cx="646.20" cy="128.80" r="3.35" fill="#0b78d0" stroke="#0a2a55" stroke-width="1"/>
<circle cx="665.40" cy="121.80" r="3.35" fill="#0b78d0" stroke="#0a2a55" stroke-width="1"/>
<circle cx="675.00" cy="114.20" r="3.35" fill="#0b78d0" stroke="#0a2a55" stroke-width="1"/>
<circle cx="682.80" cy="106.00" r="3.35" fill="#0b78d0" stroke="#0a2a55" stroke-width="1"/>
<circle cx="687.50" cy="98.60" r="3.35" fill="#0b78d0" stroke="#0a2a55" stroke-width="1"/>
<circle cx="690.20" cy="91.00" r="3.35" fill="#0b78d0" stroke="#0a2a55" stroke-width="1"/>
<circle cx="693.80" cy="82.60" r="3.35" fill="#0b78d0" stroke="#0a2a55" stroke-width="1"/>
<circle cx="696.50" cy="75.20" r="3.35" fill="#0b78d0" stroke="#0a2a55" stroke-width="1"/>
<circle cx="697.80" cy="67.40" r="3.35" fill="#0b78d0" stroke="#0a2a55" stroke-width="1"/>
<circle cx="698.20" cy="59.90" r="3.35" fill="#0b78d0" stroke="#0a2a55" stroke-width="1"/>
<circle cx="699.60" cy="52.50" r="3.35" fill="#0b78d0" stroke="#0a2a55" stroke-width="1"/>
<line x1="618.60" y1="137.00" x2="625.80" y2="137.00" stroke="#dc2a4a" stroke-width="1.6"/>
<line x1="618.60" y1="134.70" x2="618.60" y2="139.30" stroke="#dc2a4a" stroke-width="1.3"/>
<line x1="640.80" y1="130.30" x2="649.20" y2="130.30" stroke="#dc2a4a" stroke-width="1.6"/>
<line x1="640.80" y1="128.00" x2="640.80" y2="132.60" stroke="#dc2a4a" stroke-width="1.3"/>
<line x1="654.00" y1="123.00" x2="662.20" y2="123.00" stroke="#dc2a4a" stroke-width="1.6"/>
<line x1="654.00" y1="120.70" x2="654.00" y2="125.30" stroke="#dc2a4a" stroke-width="1.3"/>
<line x1="662.40" y1="115.60" x2="670.80" y2="115.60" stroke="#dc2a4a" stroke-width="1.6"/>
<line x1="662.40" y1="113.30" x2="662.40" y2="117.90" stroke="#dc2a4a" stroke-width="1.3"/>
<line x1="667.60" y1="108.70" x2="676.00" y2="108.70" stroke="#dc2a4a" stroke-width="1.6"/>
<line x1="667.60" y1="106.40" x2="667.60" y2="111.00" stroke="#dc2a4a" stroke-width="1.3"/>
<line x1="672.20" y1="101.80" x2="680.60" y2="101.80" stroke="#dc2a4a" stroke-width="1.6"/>
<line x1="672.20" y1="99.50" x2="672.20" y2="104.10" stroke="#dc2a4a" stroke-width="1.3"/>
<line x1="674.60" y1="94.60" x2="682.70" y2="94.60" stroke="#dc2a4a" stroke-width="1.6"/>
<line x1="674.60" y1="92.30" x2="674.60" y2="96.90" stroke="#dc2a4a" stroke-width="1.3"/>
<line x1="676.40" y1="88.00" x2="686.00" y2="88.00" stroke="#dc2a4a" stroke-width="1.6"/>
<line x1="676.40" y1="85.70" x2="676.40" y2="90.30" stroke="#dc2a4a" stroke-width="1.3"/>
<line x1="679.40" y1="80.80" x2="688.70" y2="80.80" stroke="#dc2a4a" stroke-width="1.6"/>
<line x1="679.40" y1="78.50" x2="679.40" y2="83.10" stroke="#dc2a4a" stroke-width="1.3"/>
<line x1="682.90" y1="73.00" x2="691.10" y2="73.00" stroke="#dc2a4a" stroke-width="1.6"/>
<line x1="682.90" y1="70.70" x2="682.90" y2="75.30" stroke="#dc2a4a" stroke-width="1.3"/>
<line x1="683.80" y1="66.00" x2="691.70" y2="66.00" stroke="#dc2a4a" stroke-width="1.6"/>
<line x1="683.80" y1="63.70" x2="683.80" y2="68.30" stroke="#dc2a4a" stroke-width="1.3"/>
<line x1="684.70" y1="59.00" x2="693.10" y2="59.00" stroke="#dc2a4a" stroke-width="1.6"/>
<line x1="684.70" y1="56.70" x2="684.70" y2="61.30" stroke="#dc2a4a" stroke-width="1.3"/>
<path d="M566.10 140.08L573.30 140.08L569.70 146.08Z" fill="#d00f2c" stroke="#3c0812" stroke-width="0.9" stroke-linejoin="miter"/>
<path d="M622.20 134.48L629.40 134.48L625.80 140.48Z" fill="#d00f2c" stroke="#3c0812" stroke-width="0.9" stroke-linejoin="miter"/>
<path d="M645.60 127.78L652.80 127.78L649.20 133.78Z" fill="#d00f2c" stroke="#3c0812" stroke-width="0.9" stroke-linejoin="miter"/>
<path d="M658.60 120.48L665.80 120.48L662.20 126.48Z" fill="#d00f2c" stroke="#3c0812" stroke-width="0.9" stroke-linejoin="miter"/>
<path d="M667.20 113.08L674.40 113.08L670.80 119.08Z" fill="#d00f2c" stroke="#3c0812" stroke-width="0.9" stroke-linejoin="miter"/>
<path d="M672.40 106.18L679.60 106.18L676.00 112.18Z" fill="#d00f2c" stroke="#3c0812" stroke-width="0.9" stroke-linejoin="miter"/>
<path d="M677.00 99.28L684.20 99.28L680.60 105.28Z" fill="#d00f2c" stroke="#3c0812" stroke-width="0.9" stroke-linejoin="miter"/>
<path d="M679.10 92.08L686.30 92.08L682.70 98.08Z" fill="#d00f2c" stroke="#3c0812" stroke-width="0.9" stroke-linejoin="miter"/>
<path d="M682.40 85.48L689.60 85.48L686.00 91.48Z" fill="#d00f2c" stroke="#3c0812" stroke-width="0.9" stroke-linejoin="miter"/>
<path d="M685.10 78.28L692.30 78.28L688.70 84.28Z" fill="#d00f2c" stroke="#3c0812" stroke-width="0.9" stroke-linejoin="miter"/>
<path d="M687.50 70.48L694.70 70.48L691.10 76.48Z" fill="#d00f2c" stroke="#3c0812" stroke-width="0.9" stroke-linejoin="miter"/>
<path d="M688.10 63.48L695.30 63.48L691.70 69.48Z" fill="#d00f2c" stroke="#3c0812" stroke-width="0.9" stroke-linejoin="miter"/>
<path d="M689.50 56.48L696.70 56.48L693.10 62.48Z" fill="#d00f2c" stroke="#3c0812" stroke-width="0.9" stroke-linejoin="miter"/>
<circle cx="579.00" cy="26.60" r="3.70" fill="#0b78d0" stroke="#0a2a55" stroke-width="1"/>
<path d="M575.20 39.73L582.80 39.73L579.00 46.33Z" fill="#d00f2c" stroke="#3c0812" stroke-width="0.9" stroke-linejoin="miter"/>
<text x="586.40" y="30.50" font-size="12" font-weight="bold"><tspan font-style="italic">n</tspan> = </text>
<path d="M610.23 30.50L611.99 30.50L611.99 21.91L610.91 21.91L610.62 22.59L610.04 23.23L609.16 23.82L608.04 24.32L608.04 25.64L608.87 25.32L609.63 24.88L610.23 24.43Z" fill="#000"/>
<path d="M616.90 30.50L618.66 30.50L618.66 21.91L617.58 21.91L617.29 22.59L616.72 23.23L615.84 23.82L614.71 24.32L614.71 25.64L615.54 25.32L616.31 24.88L616.90 24.43Z" fill="#000"/>
<text x="586.40" y="46.70" font-size="12" font-weight="bold"><tspan font-style="italic">n</tspan> = </text>
<text x="607.41" y="46.70" font-size="12" font-weight="bold">2</text>
<text x="614.08" y="46.70" font-size="12" font-weight="bold">2</text>
<text x="1.20" y="204.40" font-size="18" text-anchor="start" font-weight="bold">d</text>
<text x="159.00" y="203.20" font-size="16.3" text-anchor="middle" font-weight="bold">CTE Stage</text>
<line x1="118.70" y1="206.00" x2="199.20" y2="206.00" stroke="#000" stroke-width="1.6"/>
<text transform="translate(21.60,272.50) rotate(-90)" x="0" y="0" font-size="15" text-anchor="middle" font-weight="bold">Circ. Stress (kPa)</text>
<text x="151.30" y="367.80" font-size="15" text-anchor="middle" font-weight="bold">Circ. Stretch</text>
<line x1="54.30" y1="209.70" x2="54.30" y2="333.85" stroke="#000" stroke-width="2.3"/>
<line x1="53.15" y1="332.70" x2="253.80" y2="332.70" stroke="#000" stroke-width="2.3"/>
<path d="M53.66 350.80L55.86 350.80L55.86 340.06L54.51 340.06L54.14 340.91L53.42 341.72L52.33 342.45L50.92 343.07L50.92 344.72L51.96 344.33L52.91 343.77L53.66 343.21Z" fill="#000"/>
<line x1="103.92" y1="332.70" x2="103.92" y2="328.70" stroke="#000" stroke-width="1.8"/>
<path d="M92.86 350.80L95.06 350.80L95.06 340.06L93.71 340.06L93.34 340.91L92.62 341.72L91.53 342.45L90.12 343.07L90.12 344.72L91.16 344.33L92.11 343.77L92.86 343.21Z" fill="#000"/>
<text x="97.67" y="350.80" font-size="15" font-weight="bold">.</text>
<text x="101.84" y="350.80" font-size="15" font-weight="bold">0</text>
<text x="110.18" y="350.80" font-size="15" font-weight="bold">5</text>
<line x1="153.55" y1="332.70" x2="153.55" y2="328.70" stroke="#000" stroke-width="1.8"/>
<path d="M146.65 350.80L148.85 350.80L148.85 340.06L147.50 340.06L147.14 340.91L146.42 341.72L145.32 342.45L143.91 343.07L143.91 344.72L144.96 344.33L145.91 343.77L146.65 343.21Z" fill="#000"/>
<text x="151.47" y="350.80" font-size="15" font-weight="bold">.</text>
<path d="M159.16 350.80L161.36 350.80L161.36 340.06L160.01 340.06L159.65 340.91L158.93 341.72L157.83 342.45L156.42 343.07L156.42 344.72L157.46 344.33L158.42 343.77L159.16 343.21Z" fill="#000"/>
<line x1="203.18" y1="332.70" x2="203.18" y2="328.70" stroke="#000" stroke-width="1.8"/>
<path d="M192.11 350.80L194.31 350.80L194.31 340.06L192.96 340.06L192.59 340.91L191.87 341.72L190.78 342.45L189.37 343.07L189.37 344.72L190.41 344.33L191.36 343.77L192.11 343.21Z" fill="#000"/>
<text x="196.92" y="350.80" font-size="15" font-weight="bold">.</text>
<path d="M204.62 350.80L206.82 350.80L206.82 340.06L205.47 340.06L205.10 340.91L204.38 341.72L203.28 342.45L201.88 343.07L201.88 344.72L202.92 344.33L203.87 343.77L204.62 343.21Z" fill="#000"/>
<text x="209.43" y="350.80" font-size="15" font-weight="bold">5</text>
<line x1="252.80" y1="332.70" x2="252.80" y2="328.70" stroke="#000" stroke-width="1.8"/>
<path d="M245.90 350.80L248.10 350.80L248.10 340.06L246.75 340.06L246.39 340.91L245.67 341.72L244.57 342.45L243.16 343.07L243.16 344.72L244.21 344.33L245.16 343.77L245.90 343.21Z" fill="#000"/>
<text x="250.72" y="350.80" font-size="15" font-weight="bold">.</text>
<text x="254.88" y="350.80" font-size="15" font-weight="bold">2</text>
<text x="41.46" y="338.10" font-size="15" font-weight="bold">0</text>
<line x1="54.30" y1="302.20" x2="58.30" y2="302.20" stroke="#000" stroke-width="1.8"/>
<text x="33.12" y="307.60" font-size="15" font-weight="bold">3</text>
<text x="41.46" y="307.60" font-size="15" font-weight="bold">0</text>
<line x1="54.30" y1="271.70" x2="58.30" y2="271.70" stroke="#000" stroke-width="1.8"/>
<text x="33.12" y="277.10" font-size="15" font-weight="bold">6</text>
<text x="41.46" y="277.10" font-size="15" font-weight="bold">0</text>
<line x1="54.30" y1="241.20" x2="58.30" y2="241.20" stroke="#000" stroke-width="1.8"/>
<text x="33.12" y="246.60" font-size="15" font-weight="bold">9</text>
<text x="41.46" y="246.60" font-size="15" font-weight="bold">0</text>
<line x1="54.30" y1="210.70" x2="58.30" y2="210.70" stroke="#000" stroke-width="1.8"/>
<path d="M28.30 216.10L30.50 216.10L30.50 205.36L29.15 205.36L28.79 206.21L28.07 207.02L26.97 207.75L25.56 208.37L25.56 210.02L26.60 209.63L27.56 209.07L28.30 208.51Z" fill="#000"/>
<text x="33.12" y="216.10" font-size="15" font-weight="bold">2</text>
<text x="41.46" y="216.10" font-size="15" font-weight="bold">0</text>
<circle cx="54.30" cy="332.70" r="3.35" fill="#0b78d0" stroke="#0a2a55" stroke-width="1"/>
<line x1="127.60" y1="326.90" x2="139.90" y2="326.90" stroke="#1583cf" stroke-width="1.6"/>
<line x1="127.60" y1="324.60" x2="127.60" y2="329.20" stroke="#1583cf" stroke-width="1.4"/>
<line x1="149.50" y1="320.00" x2="163.90" y2="320.00" stroke="#1583cf" stroke-width="1.6"/>
<line x1="149.50" y1="317.70" x2="149.50" y2="322.30" stroke="#1583cf" stroke-width="1.4"/>
<line x1="161.20" y1="313.30" x2="176.10" y2="313.30" stroke="#1583cf" stroke-width="1.6"/>
<line x1="161.20" y1="311.00" x2="161.20" y2="315.60" stroke="#1583cf" stroke-width="1.4"/>
<line x1="172.90" y1="305.60" x2="188.40" y2="305.60" stroke="#1583cf" stroke-width="1.6"/>
<line x1="172.90" y1="303.30" x2="172.90" y2="307.90" stroke="#1583cf" stroke-width="1.4"/>
<line x1="176.40" y1="298.40" x2="191.60" y2="298.40" stroke="#1583cf" stroke-width="1.6"/>
<line x1="176.40" y1="296.10" x2="176.40" y2="300.70" stroke="#1583cf" stroke-width="1.4"/>
<line x1="179.80" y1="291.40" x2="195.70" y2="291.40" stroke="#1583cf" stroke-width="1.6"/>
<line x1="179.80" y1="289.10" x2="179.80" y2="293.70" stroke="#1583cf" stroke-width="1.4"/>
<line x1="183.30" y1="283.90" x2="200.70" y2="283.90" stroke="#1583cf" stroke-width="1.6"/>
<line x1="183.30" y1="281.60" x2="183.30" y2="286.20" stroke="#1583cf" stroke-width="1.4"/>
<line x1="187.80" y1="276.30" x2="204.60" y2="276.30" stroke="#1583cf" stroke-width="1.6"/>
<line x1="187.80" y1="274.00" x2="187.80" y2="278.60" stroke="#1583cf" stroke-width="1.4"/>
<line x1="189.70" y1="268.90" x2="206.70" y2="268.90" stroke="#1583cf" stroke-width="1.6"/>
<line x1="189.70" y1="266.60" x2="189.70" y2="271.20" stroke="#1583cf" stroke-width="1.4"/>
<line x1="191.00" y1="261.10" x2="208.30" y2="261.10" stroke="#1583cf" stroke-width="1.6"/>
<line x1="191.00" y1="258.80" x2="191.00" y2="263.40" stroke="#1583cf" stroke-width="1.4"/>
<line x1="192.30" y1="254.20" x2="209.40" y2="254.20" stroke="#1583cf" stroke-width="1.6"/>
<line x1="192.30" y1="251.90" x2="192.30" y2="256.50" stroke="#1583cf" stroke-width="1.4"/>
<line x1="192.90" y1="247.00" x2="211.00" y2="247.00" stroke="#1583cf" stroke-width="1.6"/>
<line x1="192.90" y1="244.70" x2="192.90" y2="249.30" stroke="#1583cf" stroke-width="1.4"/>
<circle cx="139.90" cy="326.90" r="3.35" fill="#0b78d0" stroke="#0a2a55" stroke-width="1"/>
<circle cx="163.90" cy="320.00" r="3.35" fill="#0b78d0" stroke="#0a2a55" stroke-width="1"/>
<circle cx="176.10" cy="313.30" r="3.35" fill="#0b78d0" stroke="#0a2a55" stroke-width="1"/>
<circle cx="188.40" cy="305.60" r="3.35" fill="#0b78d0" stroke="#0a2a55" stroke-width="1"/>
<circle cx="191.60" cy="298.40" r="3.35" fill="#0b78d0" stroke="#0a2a55" stroke-width="1"/>
<circle cx="195.70" cy="291.40" r="3.35" fill="#0b78d0" stroke="#0a2a55" stroke-width="1"/>
<circle cx="200.70" cy="283.90" r="3.35" fill="#0b78d0" stroke="#0a2a55" stroke-width="1"/>
<circle cx="204.60" cy="276.30" r="3.35" fill="#0b78d0" stroke="#0a2a55" stroke-width="1"/>
<circle cx="206.70" cy="268.90" r="3.35" fill="#0b78d0" stroke="#0a2a55" stroke-width="1"/>
<circle cx="208.30" cy="261.10" r="3.35" fill="#0b78d0" stroke="#0a2a55" stroke-width="1"/>
<circle cx="209.40" cy="254.20" r="3.35" fill="#0b78d0" stroke="#0a2a55" stroke-width="1"/>
<circle cx="211.00" cy="247.00" r="3.35" fill="#0b78d0" stroke="#0a2a55" stroke-width="1"/>
<line x1="95.60" y1="327.20" x2="103.10" y2="327.20" stroke="#dc2a4a" stroke-width="1.6"/>
<line x1="95.60" y1="324.90" x2="95.60" y2="329.50" stroke="#dc2a4a" stroke-width="1.3"/>
<line x1="118.80" y1="320.30" x2="126.50" y2="320.30" stroke="#dc2a4a" stroke-width="1.6"/>
<line x1="118.80" y1="318.00" x2="118.80" y2="322.60" stroke="#dc2a4a" stroke-width="1.3"/>
<line x1="136.10" y1="313.30" x2="143.60" y2="313.30" stroke="#dc2a4a" stroke-width="1.6"/>
<line x1="136.10" y1="311.00" x2="136.10" y2="315.60" stroke="#dc2a4a" stroke-width="1.3"/>
<line x1="144.40" y1="305.60" x2="152.40" y2="305.60" stroke="#dc2a4a" stroke-width="1.6"/>
<line x1="144.40" y1="303.30" x2="144.40" y2="307.90" stroke="#dc2a4a" stroke-width="1.3"/>
<line x1="150.80" y1="298.40" x2="159.10" y2="298.40" stroke="#dc2a4a" stroke-width="1.6"/>
<line x1="150.80" y1="296.10" x2="150.80" y2="300.70" stroke="#dc2a4a" stroke-width="1.3"/>
<line x1="155.70" y1="290.80" x2="164.00" y2="290.80" stroke="#dc2a4a" stroke-width="1.6"/>
<line x1="155.70" y1="288.50" x2="155.70" y2="293.10" stroke="#dc2a4a" stroke-width="1.3"/>
<line x1="157.90" y1="283.20" x2="166.60" y2="283.20" stroke="#dc2a4a" stroke-width="1.6"/>
<line x1="157.90" y1="280.90" x2="157.90" y2="285.50" stroke="#dc2a4a" stroke-width="1.3"/>
<line x1="160.80" y1="275.80" x2="169.30" y2="275.80" stroke="#dc2a4a" stroke-width="1.6"/>
<line x1="160.80" y1="273.50" x2="160.80" y2="278.10" stroke="#dc2a4a" stroke-width="1.3"/>
<line x1="163.70" y1="268.60" x2="172.00" y2="268.60" stroke="#dc2a4a" stroke-width="1.6"/>
<line x1="163.70" y1="266.30" x2="163.70" y2="270.90" stroke="#dc2a4a" stroke-width="1.3"/>
<line x1="165.10" y1="260.60" x2="173.90" y2="260.60" stroke="#dc2a4a" stroke-width="1.6"/>
<line x1="165.10" y1="258.30" x2="165.10" y2="262.90" stroke="#dc2a4a" stroke-width="1.3"/>
<line x1="165.60" y1="253.90" x2="174.90" y2="253.90" stroke="#dc2a4a" stroke-width="1.6"/>
<line x1="165.60" y1="251.60" x2="165.60" y2="256.20" stroke="#dc2a4a" stroke-width="1.3"/>
<line x1="167.20" y1="246.50" x2="176.50" y2="246.50" stroke="#dc2a4a" stroke-width="1.6"/>
<line x1="167.20" y1="244.20" x2="167.20" y2="248.80" stroke="#dc2a4a" stroke-width="1.3"/>
<path d="M50.70 330.18L57.90 330.18L54.30 336.18Z" fill="#d00f2c" stroke="#3c0812" stroke-width="0.9" stroke-linejoin="miter"/>
<path d="M99.50 324.68L106.70 324.68L103.10 330.68Z" fill="#d00f2c" stroke="#3c0812" stroke-width="0.9" stroke-linejoin="miter"/>
<path d="M122.90 317.78L130.10 317.78L126.50 323.78Z" fill="#d00f2c" stroke="#3c0812" stroke-width="0.9" stroke-linejoin="miter"/>
<path d="M140.00 310.78L147.20 310.78L143.60 316.78Z" fill="#d00f2c" stroke="#3c0812" stroke-width="0.9" stroke-linejoin="miter"/>
<path d="M148.80 303.08L156.00 303.08L152.40 309.08Z" fill="#d00f2c" stroke="#3c0812" stroke-width="0.9" stroke-linejoin="miter"/>
<path d="M155.50 295.88L162.70 295.88L159.10 301.88Z" fill="#d00f2c" stroke="#3c0812" stroke-width="0.9" stroke-linejoin="miter"/>
<path d="M160.40 288.28L167.60 288.28L164.00 294.28Z" fill="#d00f2c" stroke="#3c0812" stroke-width="0.9" stroke-linejoin="miter"/>
<path d="M163.00 280.68L170.20 280.68L166.60 286.68Z" fill="#d00f2c" stroke="#3c0812" stroke-width="0.9" stroke-linejoin="miter"/>
<path d="M165.70 273.28L172.90 273.28L169.30 279.28Z" fill="#d00f2c" stroke="#3c0812" stroke-width="0.9" stroke-linejoin="miter"/>
<path d="M168.40 266.08L175.60 266.08L172.00 272.08Z" fill="#d00f2c" stroke="#3c0812" stroke-width="0.9" stroke-linejoin="miter"/>
<path d="M170.30 258.08L177.50 258.08L173.90 264.08Z" fill="#d00f2c" stroke="#3c0812" stroke-width="0.9" stroke-linejoin="miter"/>
<path d="M171.30 251.38L178.50 251.38L174.90 257.38Z" fill="#d00f2c" stroke="#3c0812" stroke-width="0.9" stroke-linejoin="miter"/>
<path d="M172.90 243.98L180.10 243.98L176.50 249.98Z" fill="#d00f2c" stroke="#3c0812" stroke-width="0.9" stroke-linejoin="miter"/>
<circle cx="62.60" cy="217.60" r="3.70" fill="#0b78d0" stroke="#0a2a55" stroke-width="1"/>
<path d="M58.80 231.03L66.40 231.03L62.60 237.63Z" fill="#d00f2c" stroke="#3c0812" stroke-width="0.9" stroke-linejoin="miter"/>
<text x="70.80" y="221.20" font-size="12" font-weight="bold"><tspan font-style="italic">n</tspan> = </text>
<text x="91.81" y="221.20" font-size="12" font-weight="bold">6</text>
<text x="70.80" y="237.60" font-size="12" font-weight="bold"><tspan font-style="italic">n</tspan> = </text>
<text x="91.81" y="237.60" font-size="12" font-weight="bold">2</text>
<text x="98.48" y="237.60" font-size="12" font-weight="bold">2</text>
<text x="253.30" y="204.40" font-size="18" text-anchor="start" font-weight="bold">e</text>
<text x="414.60" y="203.20" font-size="16.3" text-anchor="middle" font-weight="bold">NIA-Reagan Criteria</text>
<line x1="337.60" y1="205.80" x2="491.60" y2="205.80" stroke="#000" stroke-width="1.6"/>
<text transform="translate(276.60,272.30) rotate(-90)" x="0" y="0" font-size="15" text-anchor="middle" font-weight="bold">Circ. Stress (kPa)</text>
<text x="410.70" y="373.00" font-size="15.5" text-anchor="middle" font-weight="bold">Circ. Stretch</text>
<line x1="314.30" y1="208.70" x2="314.30" y2="334.25" stroke="#000" stroke-width="2.3"/>
<line x1="313.15" y1="333.10" x2="512.00" y2="333.10" stroke="#000" stroke-width="2.3"/>
<path d="M313.66 353.70L315.86 353.70L315.86 342.96L314.51 342.96L314.14 343.81L313.42 344.62L312.33 345.35L310.92 345.97L310.92 347.62L311.96 347.23L312.91 346.67L313.66 346.11Z" fill="#000"/>
<line x1="363.48" y1="333.10" x2="363.48" y2="329.10" stroke="#000" stroke-width="1.8"/>
<path d="M352.41 353.70L354.61 353.70L354.61 342.96L353.26 342.96L352.89 343.81L352.17 344.62L351.08 345.35L349.67 345.97L349.67 347.62L350.71 347.23L351.66 346.67L352.41 346.11Z" fill="#000"/>
<text x="357.22" y="353.70" font-size="15" font-weight="bold">.</text>
<text x="361.39" y="353.70" font-size="15" font-weight="bold">0</text>
<text x="369.73" y="353.70" font-size="15" font-weight="bold">5</text>
<line x1="412.65" y1="333.10" x2="412.65" y2="329.10" stroke="#000" stroke-width="1.8"/>
<path d="M405.75 353.70L407.95 353.70L407.95 342.96L406.60 342.96L406.24 343.81L405.52 344.62L404.42 345.35L403.01 345.97L403.01 347.62L404.06 347.23L405.01 346.67L405.75 346.11Z" fill="#000"/>
<text x="410.57" y="353.70" font-size="15" font-weight="bold">.</text>
<path d="M418.26 353.70L420.46 353.70L420.46 342.96L419.11 342.96L418.75 343.81L418.03 344.62L416.93 345.35L415.52 345.97L415.52 347.62L416.56 347.23L417.52 346.67L418.26 346.11Z" fill="#000"/>
<line x1="461.82" y1="333.10" x2="461.82" y2="329.10" stroke="#000" stroke-width="1.8"/>
<path d="M450.76 353.70L452.96 353.70L452.96 342.96L451.61 342.96L451.24 343.81L450.52 344.62L449.43 345.35L448.02 345.97L448.02 347.62L449.06 347.23L450.01 346.67L450.76 346.11Z" fill="#000"/>
<text x="455.57" y="353.70" font-size="15" font-weight="bold">.</text>
<path d="M463.27 353.70L465.47 353.70L465.47 342.96L464.12 342.96L463.75 343.81L463.03 344.62L461.93 345.35L460.53 345.97L460.53 347.62L461.57 347.23L462.52 346.67L463.27 346.11Z" fill="#000"/>
<text x="468.08" y="353.70" font-size="15" font-weight="bold">5</text>
<line x1="511.00" y1="333.10" x2="511.00" y2="329.10" stroke="#000" stroke-width="1.8"/>
<path d="M504.10 353.70L506.30 353.70L506.30 342.96L504.95 342.96L504.59 343.81L503.87 344.62L502.77 345.35L501.36 345.97L501.36 347.62L502.41 347.23L503.36 346.67L504.10 346.11Z" fill="#000"/>
<text x="508.92" y="353.70" font-size="15" font-weight="bold">.</text>
<text x="513.08" y="353.70" font-size="15" font-weight="bold">2</text>
<text x="299.56" y="338.50" font-size="15" font-weight="bold">0</text>
<line x1="314.30" y1="302.25" x2="318.30" y2="302.25" stroke="#000" stroke-width="1.8"/>
<text x="291.22" y="307.65" font-size="15" font-weight="bold">3</text>
<text x="299.56" y="307.65" font-size="15" font-weight="bold">0</text>
<line x1="314.30" y1="271.40" x2="318.30" y2="271.40" stroke="#000" stroke-width="1.8"/>
<text x="291.22" y="276.80" font-size="15" font-weight="bold">6</text>
<text x="299.56" y="276.80" font-size="15" font-weight="bold">0</text>
<line x1="314.30" y1="240.55" x2="318.30" y2="240.55" stroke="#000" stroke-width="1.8"/>
<text x="291.22" y="245.95" font-size="15" font-weight="bold">9</text>
<text x="299.56" y="245.95" font-size="15" font-weight="bold">0</text>
<line x1="314.30" y1="209.70" x2="318.30" y2="209.70" stroke="#000" stroke-width="1.8"/>
<path d="M286.40 215.10L288.60 215.10L288.60 204.36L287.25 204.36L286.89 205.21L286.17 206.02L285.07 206.75L283.66 207.37L283.66 209.02L284.70 208.63L285.66 208.07L286.40 207.51Z" fill="#000"/>
<text x="291.22" y="215.10" font-size="15" font-weight="bold">2</text>
<text x="299.56" y="215.10" font-size="15" font-weight="bold">0</text>
<circle cx="314.30" cy="333.10" r="3.35" fill="#0b78d0" stroke="#0a2a55" stroke-width="1"/>
<line x1="363.70" y1="326.50" x2="371.00" y2="326.50" stroke="#1583cf" stroke-width="1.6"/>
<line x1="363.70" y1="324.20" x2="363.70" y2="328.80" stroke="#1583cf" stroke-width="1.4"/>
<line x1="385.70" y1="320.10" x2="393.70" y2="320.10" stroke="#1583cf" stroke-width="1.6"/>
<line x1="385.70" y1="317.80" x2="385.70" y2="322.40" stroke="#1583cf" stroke-width="1.4"/>
<line x1="403.00" y1="312.50" x2="409.30" y2="312.50" stroke="#1583cf" stroke-width="1.6"/>
<line x1="403.00" y1="310.20" x2="403.00" y2="314.80" stroke="#1583cf" stroke-width="1.4"/>
<line x1="412.00" y1="305.20" x2="418.10" y2="305.20" stroke="#1583cf" stroke-width="1.6"/>
<line x1="412.00" y1="302.90" x2="412.00" y2="307.50" stroke="#1583cf" stroke-width="1.4"/>
<line x1="419.00" y1="297.60" x2="424.70" y2="297.60" stroke="#1583cf" stroke-width="1.6"/>
<line x1="419.00" y1="295.30" x2="419.00" y2="299.90" stroke="#1583cf" stroke-width="1.4"/>
<line x1="425.00" y1="290.20" x2="430.00" y2="290.20" stroke="#1583cf" stroke-width="1.6"/>
<line x1="425.00" y1="287.90" x2="425.00" y2="292.50" stroke="#1583cf" stroke-width="1.4"/>
<line x1="427.00" y1="282.90" x2="432.40" y2="282.90" stroke="#1583cf" stroke-width="1.6"/>
<line x1="427.00" y1="280.60" x2="427.00" y2="285.20" stroke="#1583cf" stroke-width="1.4"/>
<line x1="430.00" y1="274.90" x2="435.60" y2="274.90" stroke="#1583cf" stroke-width="1.6"/>
<line x1="430.00" y1="272.60" x2="430.00" y2="277.20" stroke="#1583cf" stroke-width="1.4"/>
<line x1="432.00" y1="268.00" x2="438.00" y2="268.00" stroke="#1583cf" stroke-width="1.6"/>
<line x1="432.00" y1="265.70" x2="432.00" y2="270.30" stroke="#1583cf" stroke-width="1.4"/>
<line x1="434.00" y1="260.00" x2="439.90" y2="260.00" stroke="#1583cf" stroke-width="1.6"/>
<line x1="434.00" y1="257.70" x2="434.00" y2="262.30" stroke="#1583cf" stroke-width="1.4"/>
<line x1="435.00" y1="252.80" x2="440.90" y2="252.80" stroke="#1583cf" stroke-width="1.6"/>
<line x1="435.00" y1="250.50" x2="435.00" y2="255.10" stroke="#1583cf" stroke-width="1.4"/>
<line x1="436.00" y1="246.10" x2="442.00" y2="246.10" stroke="#1583cf" stroke-width="1.6"/>
<line x1="436.00" y1="243.80" x2="436.00" y2="248.40" stroke="#1583cf" stroke-width="1.4"/>
<circle cx="371.00" cy="326.50" r="3.35" fill="#0b78d0" stroke="#0a2a55" stroke-width="1"/>
<circle cx="393.70" cy="320.10" r="3.35" fill="#0b78d0" stroke="#0a2a55" stroke-width="1"/>
<circle cx="409.30" cy="312.50" r="3.35" fill="#0b78d0" stroke="#0a2a55" stroke-width="1"/>
<circle cx="418.10" cy="305.20" r="3.35" fill="#0b78d0" stroke="#0a2a55" stroke-width="1"/>
<circle cx="424.70" cy="297.60" r="3.35" fill="#0b78d0" stroke="#0a2a55" stroke-width="1"/>
<circle cx="430.00" cy="290.20" r="3.35" fill="#0b78d0" stroke="#0a2a55" stroke-width="1"/>
<circle cx="432.40" cy="282.90" r="3.35" fill="#0b78d0" stroke="#0a2a55" stroke-width="1"/>
<circle cx="435.60" cy="274.90" r="3.35" fill="#0b78d0" stroke="#0a2a55" stroke-width="1"/>
<circle cx="438.00" cy="268.00" r="3.35" fill="#0b78d0" stroke="#0a2a55" stroke-width="1"/>
<circle cx="439.90" cy="260.00" r="3.35" fill="#0b78d0" stroke="#0a2a55" stroke-width="1"/>
<circle cx="440.90" cy="252.80" r="3.35" fill="#0b78d0" stroke="#0a2a55" stroke-width="1"/>
<circle cx="442.00" cy="246.10" r="3.35" fill="#0b78d0" stroke="#0a2a55" stroke-width="1"/>
<line x1="355.00" y1="326.80" x2="367.90" y2="326.80" stroke="#ec7a90" stroke-width="1.2"/>
<line x1="355.00" y1="324.50" x2="355.00" y2="329.10" stroke="#ec7a90" stroke-width="1.3"/>
<line x1="376.70" y1="320.20" x2="390.30" y2="320.20" stroke="#ec7a90" stroke-width="1.2"/>
<line x1="376.70" y1="317.90" x2="376.70" y2="322.50" stroke="#ec7a90" stroke-width="1.3"/>
<line x1="389.70" y1="312.90" x2="403.30" y2="312.90" stroke="#ec7a90" stroke-width="1.2"/>
<line x1="389.70" y1="310.60" x2="389.70" y2="315.20" stroke="#ec7a90" stroke-width="1.3"/>
<line x1="398.30" y1="305.50" x2="412.70" y2="305.50" stroke="#ec7a90" stroke-width="1.2"/>
<line x1="398.30" y1="303.20" x2="398.30" y2="307.80" stroke="#ec7a90" stroke-width="1.3"/>
<line x1="403.00" y1="297.90" x2="417.00" y2="297.90" stroke="#ec7a90" stroke-width="1.2"/>
<line x1="403.00" y1="295.60" x2="403.00" y2="300.20" stroke="#ec7a90" stroke-width="1.3"/>
<line x1="406.00" y1="290.90" x2="420.20" y2="290.90" stroke="#ec7a90" stroke-width="1.2"/>
<line x1="406.00" y1="288.60" x2="406.00" y2="293.20" stroke="#ec7a90" stroke-width="1.3"/>
<line x1="409.50" y1="283.50" x2="424.10" y2="283.50" stroke="#ec7a90" stroke-width="1.2"/>
<line x1="409.50" y1="281.20" x2="409.50" y2="285.80" stroke="#ec7a90" stroke-width="1.3"/>
<line x1="411.60" y1="276.50" x2="426.80" y2="276.50" stroke="#ec7a90" stroke-width="1.2"/>
<line x1="411.60" y1="274.20" x2="411.60" y2="278.80" stroke="#ec7a90" stroke-width="1.3"/>
<line x1="413.70" y1="268.80" x2="428.40" y2="268.80" stroke="#ec7a90" stroke-width="1.2"/>
<line x1="413.70" y1="266.50" x2="413.70" y2="271.10" stroke="#ec7a90" stroke-width="1.3"/>
<line x1="416.10" y1="261.10" x2="431.30" y2="261.10" stroke="#ec7a90" stroke-width="1.2"/>
<line x1="416.10" y1="258.80" x2="416.10" y2="263.40" stroke="#ec7a90" stroke-width="1.3"/>
<line x1="416.90" y1="254.10" x2="432.40" y2="254.10" stroke="#ec7a90" stroke-width="1.2"/>
<line x1="416.90" y1="251.80" x2="416.90" y2="256.40" stroke="#ec7a90" stroke-width="1.3"/>
<line x1="418.50" y1="246.70" x2="433.50" y2="246.70" stroke="#ec7a90" stroke-width="1.2"/>
<line x1="418.50" y1="244.40" x2="418.50" y2="249.00" stroke="#ec7a90" stroke-width="1.3"/>
<path d="M310.70 330.58L317.90 330.58L314.30 336.58Z" fill="#d00f2c" stroke="#3c0812" stroke-width="0.9" stroke-linejoin="miter"/>
<path d="M364.30 324.28L371.50 324.28L367.90 330.28Z" fill="#d00f2c" stroke="#3c0812" stroke-width="0.9" stroke-linejoin="miter"/>
<path d="M386.70 317.68L393.90 317.68L390.30 323.68Z" fill="#d00f2c" stroke="#3c0812" stroke-width="0.9" stroke-linejoin="miter"/>
<path d="M399.70 310.38L406.90 310.38L403.30 316.38Z" fill="#d00f2c" stroke="#3c0812" stroke-width="0.9" stroke-linejoin="miter"/>
<path d="M409.10 302.98L416.30 302.98L412.70 308.98Z" fill="#d00f2c" stroke="#3c0812" stroke-width="0.9" stroke-linejoin="miter"/>
<path d="M413.40 295.38L420.60 295.38L417.00 301.38Z" fill="#d00f2c" stroke="#3c0812" stroke-width="0.9" stroke-linejoin="miter"/>
<path d="M416.60 288.38L423.80 288.38L420.20 294.38Z" fill="#d00f2c" stroke="#3c0812" stroke-width="0.9" stroke-linejoin="miter"/>
<path d="M420.50 280.98L427.70 280.98L424.10 286.98Z" fill="#d00f2c" stroke="#3c0812" stroke-width="0.9" stroke-linejoin="miter"/>
<path d="M423.20 273.98L430.40 273.98L426.80 279.98Z" fill="#d00f2c" stroke="#3c0812" stroke-width="0.9" stroke-linejoin="miter"/>
<path d="M424.80 266.28L432.00 266.28L428.40 272.28Z" fill="#d00f2c" stroke="#3c0812" stroke-width="0.9" stroke-linejoin="miter"/>
<path d="M427.70 258.58L434.90 258.58L431.30 264.58Z" fill="#d00f2c" stroke="#3c0812" stroke-width="0.9" stroke-linejoin="miter"/>
<path d="M428.80 251.58L436.00 251.58L432.40 257.58Z" fill="#d00f2c" stroke="#3c0812" stroke-width="0.9" stroke-linejoin="miter"/>
<path d="M429.90 244.18L437.10 244.18L433.50 250.18Z" fill="#d00f2c" stroke="#3c0812" stroke-width="0.9" stroke-linejoin="miter"/>
<circle cx="323.70" cy="217.70" r="3.70" fill="#0b78d0" stroke="#0a2a55" stroke-width="1"/>
<path d="M319.90 231.23L327.50 231.23L323.70 237.83Z" fill="#d00f2c" stroke="#3c0812" stroke-width="0.9" stroke-linejoin="miter"/>
<text x="330.80" y="221.30" font-size="12" font-weight="bold"><tspan font-style="italic">n</tspan> = </text>
<text x="351.81" y="221.30" font-size="12" font-weight="bold">2</text>
<text x="358.48" y="221.30" font-size="12" font-weight="bold">3</text>
<text x="330.80" y="237.70" font-size="12" font-weight="bold"><tspan font-style="italic">n</tspan> = </text>
<path d="M354.63 237.70L356.39 237.70L356.39 229.11L355.31 229.11L355.02 229.79L354.44 230.43L353.56 231.02L352.44 231.52L352.44 232.84L353.27 232.52L354.03 232.07L354.63 231.63Z" fill="#000"/>
<text x="358.48" y="237.70" font-size="12" font-weight="bold">0</text>
<text x="518.20" y="204.40" font-size="18" text-anchor="start" font-weight="bold">f</text>
<text x="662.30" y="203.60" font-size="16.3" text-anchor="middle" font-weight="bold">CAA Score</text>
<line x1="620.50" y1="206.30" x2="704.10" y2="206.30" stroke="#000" stroke-width="1.6"/>
<text transform="translate(536.60,272.20) rotate(-90)" x="0" y="0" font-size="15" text-anchor="middle" font-weight="bold">Circ. Stress (kPa)</text>
<text x="666.20" y="367.80" font-size="15" text-anchor="middle" font-weight="bold">Circ. Stretch</text>
<line x1="570.00" y1="209.30" x2="570.00" y2="333.85" stroke="#000" stroke-width="2.3"/>
<line x1="568.85" y1="332.70" x2="769.20" y2="332.70" stroke="#000" stroke-width="2.3"/>
<path d="M569.36 350.80L571.56 350.80L571.56 340.06L570.21 340.06L569.84 340.91L569.12 341.72L568.03 342.45L566.62 343.07L566.62 344.72L567.66 344.33L568.61 343.77L569.36 343.21Z" fill="#000"/>
<line x1="619.55" y1="332.70" x2="619.55" y2="328.70" stroke="#000" stroke-width="1.8"/>
<path d="M608.48 350.80L610.68 350.80L610.68 340.06L609.33 340.06L608.97 340.91L608.25 341.72L607.15 342.45L605.74 343.07L605.74 344.72L606.78 344.33L607.74 343.77L608.48 343.21Z" fill="#000"/>
<text x="613.30" y="350.80" font-size="15" font-weight="bold">.</text>
<text x="617.46" y="350.80" font-size="15" font-weight="bold">0</text>
<text x="625.80" y="350.80" font-size="15" font-weight="bold">5</text>
<line x1="669.10" y1="332.70" x2="669.10" y2="328.70" stroke="#000" stroke-width="1.8"/>
<path d="M662.20 350.80L664.40 350.80L664.40 340.06L663.05 340.06L662.69 340.91L661.97 341.72L660.87 342.45L659.46 343.07L659.46 344.72L660.51 344.33L661.46 343.77L662.20 343.21Z" fill="#000"/>
<text x="667.02" y="350.80" font-size="15" font-weight="bold">.</text>
<path d="M674.71 350.80L676.91 350.80L676.91 340.06L675.56 340.06L675.20 340.91L674.48 341.72L673.38 342.45L671.97 343.07L671.97 344.72L673.01 344.33L673.97 343.77L674.71 343.21Z" fill="#000"/>
<line x1="718.65" y1="332.70" x2="718.65" y2="328.70" stroke="#000" stroke-width="1.8"/>
<path d="M707.58 350.80L709.78 350.80L709.78 340.06L708.43 340.06L708.07 340.91L707.35 341.72L706.25 342.45L704.84 343.07L704.84 344.72L705.88 344.33L706.84 343.77L707.58 343.21Z" fill="#000"/>
<text x="712.40" y="350.80" font-size="15" font-weight="bold">.</text>
<path d="M720.09 350.80L722.29 350.80L722.29 340.06L720.94 340.06L720.58 340.91L719.86 341.72L718.76 342.45L717.35 343.07L717.35 344.72L718.39 344.33L719.35 343.77L720.09 343.21Z" fill="#000"/>
<text x="724.90" y="350.80" font-size="15" font-weight="bold">5</text>
<line x1="768.20" y1="332.70" x2="768.20" y2="328.70" stroke="#000" stroke-width="1.8"/>
<path d="M761.30 350.80L763.50 350.80L763.50 340.06L762.15 340.06L761.79 340.91L761.07 341.72L759.97 342.45L758.56 343.07L758.56 344.72L759.61 344.33L760.56 343.77L761.30 343.21Z" fill="#000"/>
<text x="766.12" y="350.80" font-size="15" font-weight="bold">.</text>
<text x="770.28" y="350.80" font-size="15" font-weight="bold">2</text>
<text x="556.36" y="338.10" font-size="15" font-weight="bold">0</text>
<line x1="570.00" y1="302.10" x2="574.00" y2="302.10" stroke="#000" stroke-width="1.8"/>
<text x="548.02" y="307.50" font-size="15" font-weight="bold">3</text>
<text x="556.36" y="307.50" font-size="15" font-weight="bold">0</text>
<line x1="570.00" y1="271.50" x2="574.00" y2="271.50" stroke="#000" stroke-width="1.8"/>
<text x="548.02" y="276.90" font-size="15" font-weight="bold">6</text>
<text x="556.36" y="276.90" font-size="15" font-weight="bold">0</text>
<line x1="570.00" y1="240.90" x2="574.00" y2="240.90" stroke="#000" stroke-width="1.8"/>
<text x="548.02" y="246.30" font-size="15" font-weight="bold">9</text>
<text x="556.36" y="246.30" font-size="15" font-weight="bold">0</text>
<line x1="570.00" y1="210.30" x2="574.00" y2="210.30" stroke="#000" stroke-width="1.8"/>
<path d="M543.20 215.70L545.40 215.70L545.40 204.96L544.05 204.96L543.69 205.81L542.97 206.62L541.87 207.35L540.46 207.97L540.46 209.62L541.50 209.23L542.46 208.67L543.20 208.11Z" fill="#000"/>
<text x="548.02" y="215.70" font-size="15" font-weight="bold">2</text>
<text x="556.36" y="215.70" font-size="15" font-weight="bold">0</text>
<circle cx="570.00" cy="332.70" r="3.35" fill="#0b78d0" stroke="#0a2a55" stroke-width="1"/>
<line x1="611.30" y1="326.60" x2="621.30" y2="326.60" stroke="#1583cf" stroke-width="1.6"/>
<line x1="611.30" y1="324.30" x2="611.30" y2="328.90" stroke="#1583cf" stroke-width="1.4"/>
<line x1="635.30" y1="319.90" x2="645.30" y2="319.90" stroke="#1583cf" stroke-width="1.6"/>
<line x1="635.30" y1="317.60" x2="635.30" y2="322.20" stroke="#1583cf" stroke-width="1.4"/>
<line x1="653.30" y1="311.70" x2="663.30" y2="311.70" stroke="#1583cf" stroke-width="1.6"/>
<line x1="653.30" y1="309.40" x2="653.30" y2="314.00" stroke="#1583cf" stroke-width="1.4"/>
<line x1="661.30" y1="304.70" x2="672.70" y2="304.70" stroke="#1583cf" stroke-width="1.6"/>
<line x1="661.30" y1="302.40" x2="661.30" y2="307.00" stroke="#1583cf" stroke-width="1.4"/>
<line x1="668.00" y1="297.70" x2="680.00" y2="297.70" stroke="#1583cf" stroke-width="1.6"/>
<line x1="668.00" y1="295.40" x2="668.00" y2="300.00" stroke="#1583cf" stroke-width="1.4"/>
<line x1="675.00" y1="289.80" x2="685.50" y2="289.80" stroke="#1583cf" stroke-width="1.6"/>
<line x1="675.00" y1="287.50" x2="675.00" y2="292.10" stroke="#1583cf" stroke-width="1.4"/>
<line x1="679.00" y1="282.20" x2="688.90" y2="282.20" stroke="#1583cf" stroke-width="1.6"/>
<line x1="679.00" y1="279.90" x2="679.00" y2="284.50" stroke="#1583cf" stroke-width="1.4"/>
<line x1="681.40" y1="274.70" x2="692.10" y2="274.70" stroke="#1583cf" stroke-width="1.6"/>
<line x1="681.40" y1="272.40" x2="681.40" y2="277.00" stroke="#1583cf" stroke-width="1.4"/>
<line x1="683.00" y1="267.00" x2="694.70" y2="267.00" stroke="#1583cf" stroke-width="1.6"/>
<line x1="683.00" y1="264.70" x2="683.00" y2="269.30" stroke="#1583cf" stroke-width="1.4"/>
<line x1="684.60" y1="259.30" x2="695.80" y2="259.30" stroke="#1583cf" stroke-width="1.6"/>
<line x1="684.60" y1="257.00" x2="684.60" y2="261.60" stroke="#1583cf" stroke-width="1.4"/>
<line x1="686.20" y1="251.80" x2="697.40" y2="251.80" stroke="#1583cf" stroke-width="1.6"/>
<line x1="686.20" y1="249.50" x2="686.20" y2="254.10" stroke="#1583cf" stroke-width="1.4"/>
<line x1="687.00" y1="245.40" x2="698.50" y2="245.40" stroke="#1583cf" stroke-width="1.6"/>
<line x1="687.00" y1="243.10" x2="687.00" y2="247.70" stroke="#1583cf" stroke-width="1.4"/>
<circle cx="621.30" cy="326.60" r="3.35" fill="#0b78d0" stroke="#0a2a55" stroke-width="1"/>
<circle cx="645.30" cy="319.90" r="3.35" fill="#0b78d0" stroke="#0a2a55" stroke-width="1"/>
<circle cx="663.30" cy="311.70" r="3.35" fill="#0b78d0" stroke="#0a2a55" stroke-width="1"/>
<circle cx="672.70" cy="304.70" r="3.35" fill="#0b78d0" stroke="#0a2a55" stroke-width="1"/>
<circle cx="680.00" cy="297.70" r="3.35" fill="#0b78d0" stroke="#0a2a55" stroke-width="1"/>
<circle cx="685.50" cy="289.80" r="3.35" fill="#0b78d0" stroke="#0a2a55" stroke-width="1"/>
<circle cx="688.90" cy="282.20" r="3.35" fill="#0b78d0" stroke="#0a2a55" stroke-width="1"/>
<circle cx="692.10" cy="274.70" r="3.35" fill="#0b78d0" stroke="#0a2a55" stroke-width="1"/>
<circle cx="694.70" cy="267.00" r="3.35" fill="#0b78d0" stroke="#0a2a55" stroke-width="1"/>
<circle cx="695.80" cy="259.30" r="3.35" fill="#0b78d0" stroke="#0a2a55" stroke-width="1"/>
<circle cx="697.40" cy="251.80" r="3.35" fill="#0b78d0" stroke="#0a2a55" stroke-width="1"/>
<circle cx="698.50" cy="245.40" r="3.35" fill="#0b78d0" stroke="#0a2a55" stroke-width="1"/>
<line x1="621.00" y1="327.90" x2="628.70" y2="327.90" stroke="#dc2a4a" stroke-width="1.6"/>
<line x1="621.00" y1="325.60" x2="621.00" y2="330.20" stroke="#dc2a4a" stroke-width="1.3"/>
<line x1="640.00" y1="320.70" x2="650.00" y2="320.70" stroke="#dc2a4a" stroke-width="1.6"/>
<line x1="640.00" y1="318.40" x2="640.00" y2="323.00" stroke="#dc2a4a" stroke-width="1.3"/>
<line x1="654.00" y1="313.30" x2="662.70" y2="313.30" stroke="#dc2a4a" stroke-width="1.6"/>
<line x1="654.00" y1="311.00" x2="654.00" y2="315.60" stroke="#dc2a4a" stroke-width="1.3"/>
<line x1="662.00" y1="306.00" x2="672.00" y2="306.00" stroke="#dc2a4a" stroke-width="1.6"/>
<line x1="662.00" y1="303.70" x2="662.00" y2="308.30" stroke="#dc2a4a" stroke-width="1.3"/>
<line x1="666.70" y1="299.00" x2="676.70" y2="299.00" stroke="#dc2a4a" stroke-width="1.6"/>
<line x1="666.70" y1="296.70" x2="666.70" y2="301.30" stroke="#dc2a4a" stroke-width="1.3"/>
<line x1="670.70" y1="292.00" x2="680.50" y2="292.00" stroke="#dc2a4a" stroke-width="1.6"/>
<line x1="670.70" y1="289.70" x2="670.70" y2="294.30" stroke="#dc2a4a" stroke-width="1.3"/>
<line x1="673.40" y1="285.50" x2="683.80" y2="285.50" stroke="#dc2a4a" stroke-width="1.6"/>
<line x1="673.40" y1="283.20" x2="673.40" y2="287.80" stroke="#dc2a4a" stroke-width="1.3"/>
<line x1="676.60" y1="278.20" x2="686.20" y2="278.20" stroke="#dc2a4a" stroke-width="1.6"/>
<line x1="676.60" y1="275.90" x2="676.60" y2="280.50" stroke="#dc2a4a" stroke-width="1.3"/>
<line x1="679.00" y1="271.50" x2="688.60" y2="271.50" stroke="#dc2a4a" stroke-width="1.6"/>
<line x1="679.00" y1="269.20" x2="679.00" y2="273.80" stroke="#dc2a4a" stroke-width="1.3"/>
<line x1="680.90" y1="263.80" x2="690.50" y2="263.80" stroke="#dc2a4a" stroke-width="1.6"/>
<line x1="680.90" y1="261.50" x2="680.90" y2="266.10" stroke="#dc2a4a" stroke-width="1.3"/>
<line x1="681.40" y1="256.60" x2="691.50" y2="256.60" stroke="#dc2a4a" stroke-width="1.6"/>
<line x1="681.40" y1="254.30" x2="681.40" y2="258.90" stroke="#dc2a4a" stroke-width="1.3"/>
<line x1="683.00" y1="249.70" x2="693.10" y2="249.70" stroke="#dc2a4a" stroke-width="1.6"/>
<line x1="683.00" y1="247.40" x2="683.00" y2="252.00" stroke="#dc2a4a" stroke-width="1.3"/>
<path d="M566.40 330.18L573.60 330.18L570.00 336.18Z" fill="#d00f2c" stroke="#3c0812" stroke-width="0.9" stroke-linejoin="miter"/>
<path d="M625.10 325.38L632.30 325.38L628.70 331.38Z" fill="#d00f2c" stroke="#3c0812" stroke-width="0.9" stroke-linejoin="miter"/>
<path d="M646.40 318.18L653.60 318.18L650.00 324.18Z" fill="#d00f2c" stroke="#3c0812" stroke-width="0.9" stroke-linejoin="miter"/>
<path d="M659.10 310.78L666.30 310.78L662.70 316.78Z" fill="#d00f2c" stroke="#3c0812" stroke-width="0.9" stroke-linejoin="miter"/>
<path d="M668.40 303.48L675.60 303.48L672.00 309.48Z" fill="#d00f2c" stroke="#3c0812" stroke-width="0.9" stroke-linejoin="miter"/>
<path d="M673.10 296.48L680.30 296.48L676.70 302.48Z" fill="#d00f2c" stroke="#3c0812" stroke-width="0.9" stroke-linejoin="miter"/>
<path d="M676.90 289.48L684.10 289.48L680.50 295.48Z" fill="#d00f2c" stroke="#3c0812" stroke-width="0.9" stroke-linejoin="miter"/>
<path d="M680.20 282.98L687.40 282.98L683.80 288.98Z" fill="#d00f2c" stroke="#3c0812" stroke-width="0.9" stroke-linejoin="miter"/>
<path d="M682.60 275.68L689.80 275.68L686.20 281.68Z" fill="#d00f2c" stroke="#3c0812" stroke-width="0.9" stroke-linejoin="miter"/>
<path d="M685.00 268.98L692.20 268.98L688.60 274.98Z" fill="#d00f2c" stroke="#3c0812" stroke-width="0.9" stroke-linejoin="miter"/>
<path d="M686.90 261.28L694.10 261.28L690.50 267.28Z" fill="#d00f2c" stroke="#3c0812" stroke-width="0.9" stroke-linejoin="miter"/>
<path d="M687.90 254.08L695.10 254.08L691.50 260.08Z" fill="#d00f2c" stroke="#3c0812" stroke-width="0.9" stroke-linejoin="miter"/>
<path d="M689.50 247.18L696.70 247.18L693.10 253.18Z" fill="#d00f2c" stroke="#3c0812" stroke-width="0.9" stroke-linejoin="miter"/>
<circle cx="578.70" cy="217.70" r="3.70" fill="#0b78d0" stroke="#0a2a55" stroke-width="1"/>
<path d="M574.90 231.23L582.50 231.23L578.70 237.83Z" fill="#d00f2c" stroke="#3c0812" stroke-width="0.9" stroke-linejoin="miter"/>
<text x="586.00" y="221.30" font-size="12" font-weight="bold"><tspan font-style="italic">n</tspan> = </text>
<path d="M609.83 221.30L611.59 221.30L611.59 212.71L610.51 212.71L610.22 213.39L609.64 214.03L608.76 214.62L607.64 215.12L607.64 216.44L608.47 216.12L609.23 215.68L609.83 215.23Z" fill="#000"/>
<text x="613.68" y="221.30" font-size="12" font-weight="bold">5</text>
<text x="586.00" y="237.70" font-size="12" font-weight="bold"><tspan font-style="italic">n</tspan> = </text>
<path d="M609.83 237.70L611.59 237.70L611.59 229.11L610.51 229.11L610.22 229.79L609.64 230.43L608.76 231.02L607.64 231.52L607.64 232.84L608.47 232.52L609.23 232.07L609.83 231.63Z" fill="#000"/>
<text x="613.68" y="237.70" font-size="12" font-weight="bold">8</text>
<text x="784.30" y="15.90" font-size="18" text-anchor="start" font-weight="bold">g</text>
<line x1="840.00" y1="19.00" x2="840.00" y2="328.15" stroke="#000" stroke-width="2.3"/>
<line x1="838.85" y1="327.00" x2="1059.00" y2="327.00" stroke="#000" stroke-width="2.3"/>
<path d="M816.68 332.40L818.88 332.40L818.88 321.66L817.53 321.66L817.16 322.51L816.44 323.32L815.35 324.05L813.94 324.67L813.94 326.32L814.98 325.93L815.93 325.37L816.68 324.81Z" fill="#000"/>
<text x="821.49" y="332.40" font-size="15" font-weight="bold">.</text>
<path d="M829.19 332.40L831.39 332.40L831.39 321.66L830.04 321.66L829.67 322.51L828.95 323.32L827.85 324.05L826.45 324.67L826.45 326.32L827.49 325.93L828.44 325.37L829.19 324.81Z" fill="#000"/>
<line x1="840.00" y1="250.25" x2="844.00" y2="250.25" stroke="#000" stroke-width="1.8"/>
<path d="M808.34 255.65L810.53 255.65L810.53 244.91L809.19 244.91L808.82 245.76L808.10 246.57L807.00 247.30L805.60 247.92L805.60 249.57L806.64 249.18L807.59 248.62L808.34 248.06Z" fill="#000"/>
<text x="813.15" y="255.65" font-size="15" font-weight="bold">.</text>
<path d="M820.85 255.65L823.04 255.65L823.04 244.91L821.70 244.91L821.33 245.76L820.61 246.57L819.51 247.30L818.11 247.92L818.11 249.57L819.15 249.18L820.10 248.62L820.85 248.06Z" fill="#000"/>
<text x="825.66" y="255.65" font-size="15" font-weight="bold">2</text>
<line x1="840.00" y1="173.50" x2="844.00" y2="173.50" stroke="#000" stroke-width="1.8"/>
<path d="M808.34 178.90L810.53 178.90L810.53 168.16L809.19 168.16L808.82 169.01L808.10 169.82L807.00 170.55L805.60 171.17L805.60 172.82L806.64 172.43L807.59 171.87L808.34 171.31Z" fill="#000"/>
<text x="813.15" y="178.90" font-size="15" font-weight="bold">.</text>
<path d="M820.85 178.90L823.04 178.90L823.04 168.16L821.70 168.16L821.33 169.01L820.61 169.82L819.51 170.55L818.11 171.17L818.11 172.82L819.15 172.43L820.10 171.87L820.85 171.31Z" fill="#000"/>
<text x="825.66" y="178.90" font-size="15" font-weight="bold">4</text>
<line x1="840.00" y1="96.75" x2="844.00" y2="96.75" stroke="#000" stroke-width="1.8"/>
<path d="M808.34 102.15L810.53 102.15L810.53 91.41L809.19 91.41L808.82 92.26L808.10 93.07L807.00 93.80L805.60 94.42L805.60 96.07L806.64 95.68L807.59 95.12L808.34 94.56Z" fill="#000"/>
<text x="813.15" y="102.15" font-size="15" font-weight="bold">.</text>
<path d="M820.85 102.15L823.04 102.15L823.04 91.41L821.70 91.41L821.33 92.26L820.61 93.07L819.51 93.80L818.11 94.42L818.11 96.07L819.15 95.68L820.10 95.12L820.85 94.56Z" fill="#000"/>
<text x="825.66" y="102.15" font-size="15" font-weight="bold">6</text>
<line x1="840.00" y1="20.00" x2="844.00" y2="20.00" stroke="#000" stroke-width="1.8"/>
<path d="M808.34 25.40L810.53 25.40L810.53 14.66L809.19 14.66L808.82 15.51L808.10 16.32L807.00 17.05L805.60 17.67L805.60 19.32L806.64 18.93L807.59 18.37L808.34 17.81Z" fill="#000"/>
<text x="813.15" y="25.40" font-size="15" font-weight="bold">.</text>
<path d="M820.85 25.40L823.04 25.40L823.04 14.66L821.70 14.66L821.33 15.51L820.61 16.32L819.51 17.05L818.11 17.67L818.11 19.32L819.15 18.93L820.10 18.37L820.85 17.81Z" fill="#000"/>
<text x="825.66" y="25.40" font-size="15" font-weight="bold">8</text>
<line x1="852.30" y1="327.00" x2="852.30" y2="323.00" stroke="#000" stroke-width="1.8"/>
<path d="M843.32 347.80L845.51 347.80L845.51 337.06L844.17 337.06L843.80 337.91L843.08 338.72L841.98 339.45L840.58 340.07L840.58 341.72L841.62 341.33L842.57 340.77L843.32 340.21Z" fill="#000"/>
<text x="848.13" y="347.80" font-size="15" font-weight="bold">0</text>
<text x="856.47" y="347.80" font-size="15" font-weight="bold">0</text>
<line x1="916.10" y1="327.00" x2="916.10" y2="323.00" stroke="#000" stroke-width="1.8"/>
<path d="M907.12 347.80L909.31 347.80L909.31 337.06L907.97 337.06L907.60 337.91L906.88 338.72L905.78 339.45L904.38 340.07L904.38 341.72L905.42 341.33L906.37 340.77L907.12 340.21Z" fill="#000"/>
<text x="911.93" y="347.80" font-size="15" font-weight="bold">5</text>
<text x="920.27" y="347.80" font-size="15" font-weight="bold">0</text>
<line x1="979.90" y1="327.00" x2="979.90" y2="323.00" stroke="#000" stroke-width="1.8"/>
<text x="967.39" y="347.80" font-size="15" font-weight="bold">2</text>
<text x="975.73" y="347.80" font-size="15" font-weight="bold">0</text>
<text x="984.07" y="347.80" font-size="15" font-weight="bold">0</text>
<line x1="1043.70" y1="327.00" x2="1043.70" y2="323.00" stroke="#000" stroke-width="1.8"/>
<text x="1031.19" y="347.80" font-size="15" font-weight="bold">2</text>
<text x="1039.53" y="347.80" font-size="15" font-weight="bold">5</text>
<text x="1047.87" y="347.80" font-size="15" font-weight="bold">0</text>
<text x="946.30" y="364.80" font-size="15.5" text-anchor="middle" font-weight="bold">Initial Modulus (kPa)</text>
<text transform="translate(800.9,178.8) rotate(-90)" x="0" y="0" font-size="16.4" text-anchor="middle" font-weight="bold">Max. Circumferential Stretch</text>
<rect x="919.10" y="24.40" width="8.00" height="8.00" fill="#0b78d0" stroke="none" stroke-width="0"/>
<rect x="919.10" y="41.40" width="8.00" height="8.00" fill="#d00f2c" stroke="none" stroke-width="0"/>
<text x="929.50" y="32.20" font-size="12" text-anchor="start" font-weight="bold">Low</text>
<text x="929.50" y="48.30" font-size="12" text-anchor="start" font-weight="bold">High</text>
<line x1="957.40" y1="19.80" x2="957.40" y2="100.80" stroke="#000" stroke-width="1.2"/>
<rect x="964.60" y="26.30" width="8.20" height="8.20" fill="#000" stroke="none" stroke-width="0"/>
<path d="M964.00 41.90L973.40 41.90L968.70 50.10Z" fill="#000" stroke="none" stroke-width="0" stroke-linejoin="miter"/>
<polygon points="968.90,55.20 970.49,59.02 974.61,59.35 971.47,62.03 972.43,66.05 968.90,63.90 965.37,66.05 966.33,62.03 963.19,59.35 967.31,59.02" fill="#000" stroke="none" stroke-width="0"/>
<path d="M964.00 79.81L973.60 79.81L968.80 71.21Z" fill="#000" stroke="none" stroke-width="0"/>
<circle cx="968.90" cy="91.50" r="4.60" fill="#000" stroke="none" stroke-width="0"/>
<text x="975.40" y="34.30" font-size="12" text-anchor="start" font-weight="bold">Braak</text>
<text x="975.40" y="49.60" font-size="12" text-anchor="start" font-weight="bold">CTE</text>
<text x="975.40" y="64.90" font-size="12" text-anchor="start" font-weight="bold">CERAD/NIA-R</text>
<text x="975.40" y="79.80" font-size="12" text-anchor="start" font-weight="bold">Thal</text>
<text x="975.40" y="95.20" font-size="12" text-anchor="start" font-weight="bold">CAA</text>
<line x1="920.90" y1="232.00" x2="985.10" y2="232.00" stroke="#dd5773" stroke-width="1.4"/>
<line x1="920.90" y1="230.50" x2="920.90" y2="233.50" stroke="#dd5773" stroke-width="1.4"/>
<line x1="985.10" y1="230.50" x2="985.10" y2="233.50" stroke="#dd5773" stroke-width="1.4"/>
<line x1="953.00" y1="197.90" x2="953.00" y2="265.40" stroke="#dd5773" stroke-width="1.8"/>
<line x1="951.50" y1="197.90" x2="954.50" y2="197.90" stroke="#dd5773" stroke-width="1.4"/>
<line x1="951.50" y1="265.40" x2="954.50" y2="265.40" stroke="#dd5773" stroke-width="1.4"/>
<line x1="925.20" y1="232.00" x2="1000.60" y2="232.00" stroke="#dd5773" stroke-width="1.4"/>
<line x1="925.20" y1="230.50" x2="925.20" y2="233.50" stroke="#dd5773" stroke-width="1.4"/>
<line x1="1000.60" y1="230.50" x2="1000.60" y2="233.50" stroke="#dd5773" stroke-width="1.4"/>
<line x1="962.80" y1="190.40" x2="962.80" y2="273.00" stroke="#dd5773" stroke-width="1.8"/>
<line x1="961.30" y1="190.40" x2="964.30" y2="190.40" stroke="#dd5773" stroke-width="1.4"/>
<line x1="961.30" y1="273.00" x2="964.30" y2="273.00" stroke="#dd5773" stroke-width="1.4"/>
<line x1="918.80" y1="247.10" x2="1004.60" y2="247.10" stroke="#dd5773" stroke-width="1.4"/>
<line x1="918.80" y1="245.60" x2="918.80" y2="248.60" stroke="#dd5773" stroke-width="1.4"/>
<line x1="1004.60" y1="245.60" x2="1004.60" y2="248.60" stroke="#dd5773" stroke-width="1.4"/>
<line x1="962.00" y1="187.80" x2="962.00" y2="306.50" stroke="#dd5773" stroke-width="1.8"/>
<line x1="960.50" y1="187.80" x2="963.50" y2="187.80" stroke="#dd5773" stroke-width="1.4"/>
<line x1="960.50" y1="306.50" x2="963.50" y2="306.50" stroke="#dd5773" stroke-width="1.4"/>
<line x1="953.80" y1="243.30" x2="1018.20" y2="243.30" stroke="#dd5773" stroke-width="1.4"/>
<line x1="953.80" y1="241.80" x2="953.80" y2="244.80" stroke="#dd5773" stroke-width="1.4"/>
<line x1="1018.20" y1="241.80" x2="1018.20" y2="244.80" stroke="#dd5773" stroke-width="1.4"/>
<line x1="986.00" y1="209.20" x2="986.00" y2="277.30" stroke="#dd5773" stroke-width="1.8"/>
<line x1="984.50" y1="209.20" x2="987.50" y2="209.20" stroke="#dd5773" stroke-width="1.4"/>
<line x1="984.50" y1="277.30" x2="987.50" y2="277.30" stroke="#dd5773" stroke-width="1.4"/>
<line x1="958.40" y1="239.50" x2="1032.10" y2="239.50" stroke="#dd5773" stroke-width="1.4"/>
<line x1="958.40" y1="238.00" x2="958.40" y2="241.00" stroke="#dd5773" stroke-width="1.4"/>
<line x1="1032.10" y1="238.00" x2="1032.10" y2="241.00" stroke="#dd5773" stroke-width="1.4"/>
<line x1="995.10" y1="206.00" x2="995.10" y2="272.40" stroke="#dd5773" stroke-width="1.8"/>
<line x1="993.60" y1="206.00" x2="996.60" y2="206.00" stroke="#dd5773" stroke-width="1.4"/>
<line x1="993.60" y1="272.40" x2="996.60" y2="272.40" stroke="#dd5773" stroke-width="1.4"/>
<line x1="851.40" y1="104.80" x2="888.70" y2="104.80" stroke="#1c95d9" stroke-width="1.7"/>
<line x1="851.40" y1="103.30" x2="851.40" y2="106.30" stroke="#1c95d9" stroke-width="1.4"/>
<line x1="888.70" y1="103.30" x2="888.70" y2="106.30" stroke="#1c95d9" stroke-width="1.4"/>
<line x1="870.20" y1="37.20" x2="870.20" y2="172.00" stroke="#1c95d9" stroke-width="1.7"/>
<line x1="868.70" y1="37.20" x2="871.70" y2="37.20" stroke="#1c95d9" stroke-width="1.4"/>
<line x1="868.70" y1="172.00" x2="871.70" y2="172.00" stroke="#1c95d9" stroke-width="1.4"/>
<line x1="869.30" y1="158.60" x2="965.30" y2="158.60" stroke="#1c95d9" stroke-width="1.7"/>
<line x1="869.30" y1="157.10" x2="869.30" y2="160.10" stroke="#1c95d9" stroke-width="1.4"/>
<line x1="965.30" y1="157.10" x2="965.30" y2="160.10" stroke="#1c95d9" stroke-width="1.4"/>
<line x1="917.40" y1="102.50" x2="917.40" y2="214.80" stroke="#1c95d9" stroke-width="1.7"/>
<line x1="915.90" y1="102.50" x2="918.90" y2="102.50" stroke="#1c95d9" stroke-width="1.4"/>
<line x1="915.90" y1="214.80" x2="918.90" y2="214.80" stroke="#1c95d9" stroke-width="1.4"/>
<line x1="937.20" y1="212.50" x2="1007.80" y2="212.50" stroke="#1c95d9" stroke-width="1.7"/>
<line x1="937.20" y1="211.00" x2="937.20" y2="214.00" stroke="#1c95d9" stroke-width="1.4"/>
<line x1="1007.80" y1="211.00" x2="1007.80" y2="214.00" stroke="#1c95d9" stroke-width="1.4"/>
<line x1="973.40" y1="178.00" x2="973.40" y2="247.30" stroke="#1c95d9" stroke-width="1.7"/>
<line x1="971.90" y1="178.00" x2="974.90" y2="178.00" stroke="#1c95d9" stroke-width="1.4"/>
<line x1="971.90" y1="247.30" x2="974.90" y2="247.30" stroke="#1c95d9" stroke-width="1.4"/>
<line x1="937.20" y1="212.50" x2="1017.40" y2="212.50" stroke="#1c95d9" stroke-width="1.7"/>
<line x1="937.20" y1="211.00" x2="937.20" y2="214.00" stroke="#1c95d9" stroke-width="1.4"/>
<line x1="1017.40" y1="211.00" x2="1017.40" y2="214.00" stroke="#1c95d9" stroke-width="1.4"/>
<line x1="977.30" y1="169.00" x2="977.30" y2="256.50" stroke="#1c95d9" stroke-width="1.7"/>
<line x1="975.80" y1="169.00" x2="978.80" y2="169.00" stroke="#1c95d9" stroke-width="1.4"/>
<line x1="975.80" y1="256.50" x2="978.80" y2="256.50" stroke="#1c95d9" stroke-width="1.4"/>
<line x1="953.30" y1="208.90" x2="1051.80" y2="208.90" stroke="#1c95d9" stroke-width="1.7"/>
<line x1="953.30" y1="207.40" x2="953.30" y2="210.40" stroke="#1c95d9" stroke-width="1.4"/>
<line x1="1051.80" y1="207.40" x2="1051.80" y2="210.40" stroke="#1c95d9" stroke-width="1.4"/>
<line x1="1002.50" y1="149.20" x2="1002.50" y2="268.10" stroke="#1c95d9" stroke-width="1.7"/>
<line x1="1001.00" y1="149.20" x2="1004.00" y2="149.20" stroke="#1c95d9" stroke-width="1.4"/>
<line x1="1001.00" y1="268.10" x2="1004.00" y2="268.10" stroke="#1c95d9" stroke-width="1.4"/>
<path d="M948.00 235.30L958.00 235.30L953.00 226.50Z" fill="#d00f2c" stroke="#3c0812" stroke-width="1.1"/>
<circle cx="963.00" cy="232.10" r="4.40" fill="#d00f2c" stroke="#3c0812" stroke-width="1.1"/>
<polygon points="962.00,241.40 963.59,245.22 967.71,245.55 964.57,248.23 965.53,252.25 962.00,250.10 958.47,252.25 959.43,248.23 956.29,245.55 960.41,245.22" fill="#d00f2c" stroke="#3c0812" stroke-width="1.1"/>
<rect x="982.10" y="239.80" width="7.40" height="7.40" fill="#d00f2c" stroke="#3c0812" stroke-width="1.1"/>
<path d="M990.10 236.30L1000.10 236.30L995.10 245.10Z" fill="#d00f2c" stroke="#3c0812" stroke-width="1.1" stroke-linejoin="miter"/>
<path d="M864.80 101.60L875.80 101.60L870.30 111.20Z" fill="#0b78d0" stroke="#0a2a55" stroke-width="1.2" stroke-linejoin="miter"/>
<rect x="913.40" y="154.60" width="8.00" height="8.00" fill="#0b78d0" stroke="#0a2a55" stroke-width="1.2"/>
<polygon points="973.60,207.00 975.13,210.69 979.12,211.01 976.08,213.61 977.01,217.49 973.60,215.41 970.19,217.49 971.12,213.61 968.08,211.01 972.07,210.69" fill="#0b78d0" stroke="#0a2a55" stroke-width="1.1"/>
<circle cx="977.30" cy="212.50" r="4.30" fill="#0b78d0" stroke="#0a2a55" stroke-width="1.2"/>
<path d="M997.30 212.93L1007.70 212.93L1002.50 203.33Z" fill="#0b78d0" stroke="#0a2a55" stroke-width="1.2"/>
</svg>
</body></html>
